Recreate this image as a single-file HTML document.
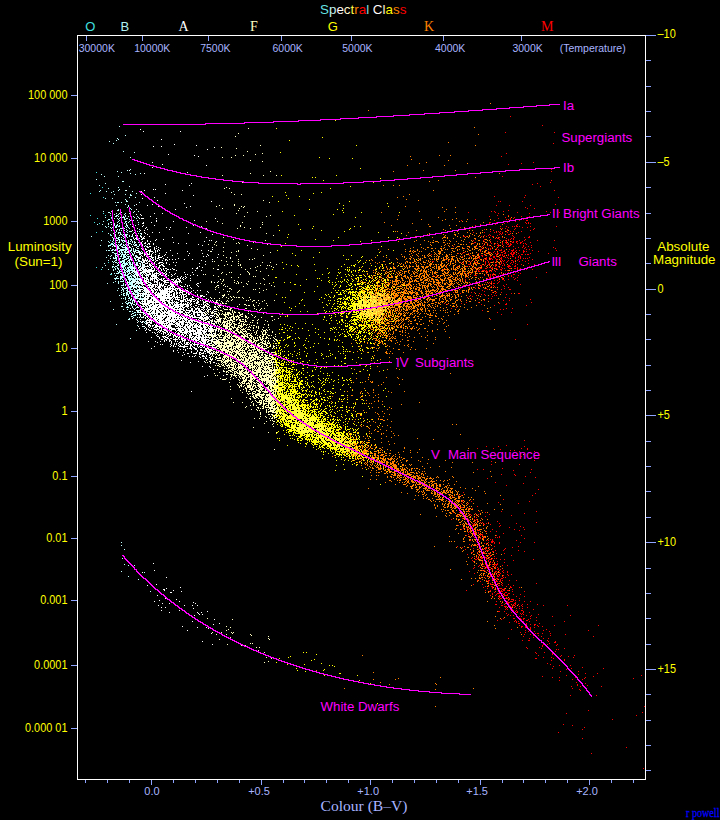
<!DOCTYPE html>
<html><head><meta charset="utf-8"><title>Hertzsprung-Russell Diagram</title>
<style>html,body{margin:0;padding:0;background:#000}svg{display:block}</style></head>
<body><svg width="720" height="820" viewBox="0 0 720 820">
<rect width="720" height="820" fill="#000"/>
<g transform="translate(0,.5)" fill="none" stroke-width="1" shape-rendering="crispEdges"><path stroke="#ff8000" d="M490 103h1M368 110h1M474 127h1M478 134h1M448 142h1M475 145h1M439 155h1M450 155h1M410 156h1M411 159h1M448 160h1M426 162h1M419 163h1M467 163h1M407 165h1M444 165h1M423 170h1M455 170h1M393 171h1M499 173h1M475 177h1M438 180h1M372 181h1M429 181h1M383 185h1M393 185h1M399 185h1M433 190h1M409 194h1M403 196h1M397 197h1M406 199h1M418 200h1M405 206h1M442 207h1M455 207h1M446 209h1M419 211h1M444 211h1M381 212h1M455 212h1M503 214h1M398 215h1M508 216h1M438 217h1M511 217h1M456 218h1M397 219h1M421 219h1M445 219h1M452 219h1M467 219h1M490 219h1M442 220h1M459 221h1M462 221h1M466 221h1M384 222h1M483 222h1M412 223h1M495 223h1M428 224h1M502 224h1M391 225h1M449 225h1M456 225h1M429 226h2M472 226h1M464 227h1M450 228h1M465 228h1M443 229h1M459 229h1M465 229h1M486 229h1M490 229h1M501 229h1M416 230h1M445 230h1M469 230h1M472 230h1M482 230h1M508 230h1M395 231h1M397 231h1M448 231h1M457 231h1M505 231h1M408 232h1M454 232h1M467 232h1M480 232h1M482 232h1M429 233h1M437 233h1M458 233h1M470 233h1M476 233h1M480 233h1M512 233h1M516 233h1M427 234h1M443 234h1M454 234h2M472 234h1M406 235h1M445 235h1M455 235h1M463 235h1M469 235h1M474 235h1M479 235h1M415 236h1M444 236h1M457 236h1M467 236h1M469 236h1M478 236h1M483 236h1M502 236h1M420 237h1M432 237h1M443 237h3M447 237h1M460 237h1M465 237h1M468 237h1M480 237h1M489 237h1M493 237h1M504 237h1M399 238h1M407 238h1M442 238h1M447 238h1M453 238h1M474 238h2M464 239h1M485 239h2M416 240h1M424 240h1M433 240h1M443 240h1M445 240h1M449 240h1M461 240h1M471 240h1M478 240h2M487 240h1M489 240h1M398 241h1M414 241h1M428 241h1M435 241h3M450 241h1M456 241h1M463 241h1M472 241h1M483 241h1M502 241h1M510 241h1M430 242h1M432 242h2M438 242h1M443 242h2M485 242h2M500 242h1M507 242h1M447 243h1M449 243h1M458 243h1M471 243h2M477 243h1M479 243h1M494 243h1M404 244h1M420 244h1M430 244h1M445 244h1M454 244h1M460 244h2M463 244h1M466 244h1M471 244h1M477 244h1M479 244h1M484 244h1M487 244h1M431 245h1M444 245h1M448 245h1M452 245h1M476 245h1M490 245h1M500 245h1M441 246h1M449 246h1M457 246h3M467 246h2M474 246h2M479 246h2M494 246h1M502 246h1M413 247h1M421 247h1M427 247h2M444 247h1M456 247h1M462 247h1M469 247h1M474 247h2M483 247h1M485 247h1M497 247h1M410 248h1M423 248h1M431 248h2M435 248h1M440 248h2M443 248h1M451 248h3M455 248h1M462 248h2M467 248h1M472 248h1M475 248h3M482 248h1M492 248h1M378 249h1M388 249h1M405 249h1M417 249h1M425 249h1M441 249h1M445 249h1M447 249h1M457 249h1M459 249h1M468 249h1M472 249h1M474 249h1M479 249h1M488 249h1M495 249h1M506 249h1M410 250h1M413 250h1M417 250h1M433 250h1M438 250h1M441 250h2M452 250h1M457 250h1M463 250h1M469 250h2M478 250h1M480 250h1M485 250h2M380 251h1M405 251h1M409 251h2M412 251h1M414 251h2M419 251h1M421 251h1M431 251h1M438 251h3M453 251h2M465 251h1M467 251h1M482 251h1M484 251h2M497 251h1M413 252h1M434 252h1M439 252h2M444 252h1M451 252h1M472 252h1M476 252h1M484 252h1M488 252h2M516 252h1M411 253h1M418 253h1M429 253h1M435 253h1M438 253h3M457 253h1M460 253h1M470 253h1M472 253h1M481 253h2M486 253h3M491 253h1M401 254h1M409 254h1M416 254h1M428 254h1M434 254h1M436 254h1M439 254h1M442 254h1M446 254h1M449 254h1M451 254h1M461 254h1M466 254h3M477 254h2M484 254h1M489 254h2M492 254h1M497 254h1M412 255h1M417 255h1M422 255h1M424 255h1M427 255h1M429 255h2M437 255h1M446 255h2M456 255h1M464 255h1M472 255h2M477 255h2M486 255h1M499 255h1M506 255h1M383 256h1M402 256h1M404 256h1M410 256h1M418 256h1M424 256h1M428 256h1M431 256h1M434 256h1M436 256h1M438 256h2M445 256h3M451 256h4M460 256h1M464 256h1M473 256h1M475 256h2M479 256h1M497 256h2M375 257h1M386 257h1M404 257h1M411 257h1M424 257h2M438 257h1M443 257h1M446 257h1M448 257h1M452 257h1M456 257h1M461 257h2M471 257h1M475 257h1M477 257h2M396 258h1M406 258h1M409 258h2M413 258h1M418 258h1M420 258h1M422 258h1M429 258h1M434 258h1M436 258h1M438 258h1M441 258h1M443 258h1M446 258h2M451 258h2M457 258h1M459 258h1M464 258h1M466 258h1M468 258h2M471 258h1M473 258h4M485 258h1M489 258h1M510 258h1M371 259h1M389 259h1M397 259h1M405 259h1M410 259h1M414 259h1M419 259h2M430 259h1M432 259h1M434 259h1M436 259h3M443 259h2M446 259h1M448 259h2M451 259h3M457 259h1M460 259h1M462 259h2M473 259h1M480 259h2M499 259h1M366 260h1M372 260h1M414 260h1M417 260h2M420 260h1M426 260h1M428 260h1M436 260h1M442 260h3M448 260h1M451 260h1M453 260h1M455 260h1M457 260h2M467 260h1M472 260h1M476 260h1M478 260h1M483 260h1M383 261h2M406 261h2M414 261h2M423 261h1M428 261h1M430 261h1M437 261h1M441 261h1M450 261h2M455 261h1M458 261h1M463 261h1M465 261h2M469 261h1M474 261h1M477 261h1M497 261h1M500 261h1M515 261h1M375 262h1M379 262h1M397 262h1M405 262h1M407 262h1M409 262h2M412 262h2M416 262h1M418 262h1M423 262h3M429 262h1M432 262h1M441 262h1M446 262h1M450 262h1M455 262h1M459 262h1M462 262h1M466 262h1M474 262h1M477 262h1M491 262h2M495 262h1M498 262h2M370 263h1M377 263h1M390 263h1M399 263h1M401 263h1M405 263h1M410 263h1M415 263h1M420 263h1M427 263h1M430 263h2M441 263h2M448 263h1M450 263h1M452 263h2M461 263h1M466 263h1M470 263h1M473 263h3M478 263h2M499 263h1M381 264h1M385 264h1M393 264h1M400 264h1M403 264h1M416 264h1M421 264h1M424 264h1M429 264h3M433 264h1M435 264h2M438 264h1M440 264h2M444 264h1M447 264h1M450 264h1M455 264h1M462 264h2M473 264h1M475 264h2M483 264h1M492 264h1M507 264h1M403 265h1M406 265h1M409 265h1M416 265h1M418 265h1M429 265h2M436 265h1M440 265h2M443 265h2M446 265h1M449 265h1M453 265h2M459 265h1M464 265h1M471 265h1M476 265h1M487 265h1M491 265h1M523 265h1M380 266h1M386 266h1M393 266h1M397 266h1M400 266h1M402 266h1M404 266h1M406 266h1M409 266h2M412 266h2M416 266h3M421 266h3M426 266h3M430 266h1M434 266h1M436 266h1M438 266h2M441 266h3M445 266h1M453 266h1M458 266h2M462 266h1M464 266h2M469 266h1M472 266h2M486 266h1M490 266h1M499 266h1M361 267h1M386 267h1M390 267h1M393 267h2M405 267h1M407 267h1M409 267h1M418 267h1M422 267h2M425 267h3M432 267h2M436 267h1M438 267h2M441 267h2M446 267h1M453 267h1M456 267h2M459 267h1M463 267h2M472 267h1M474 267h2M479 267h3M369 268h1M376 268h1M383 268h1M387 268h1M393 268h3M402 268h1M404 268h1M407 268h1M414 268h2M417 268h3M423 268h1M425 268h1M430 268h1M434 268h1M436 268h1M438 268h3M444 268h1M447 268h1M451 268h1M453 268h1M455 268h1M457 268h2M461 268h2M464 268h2M468 268h1M470 268h2M475 268h1M477 268h2M494 268h1M511 268h1M387 269h1M389 269h1M415 269h3M421 269h1M424 269h1M428 269h1M431 269h1M438 269h2M442 269h1M444 269h2M447 269h2M451 269h1M453 269h1M455 269h2M460 269h1M462 269h1M464 269h2M471 269h2M476 269h2M492 269h1M496 269h1M373 270h1M375 270h1M383 270h2M392 270h1M394 270h1M400 270h2M408 270h2M416 270h1M420 270h2M423 270h2M426 270h1M430 270h2M437 270h1M441 270h3M447 270h1M449 270h1M455 270h1M462 270h2M468 270h1M470 270h1M472 270h1M490 270h1M508 270h2M367 271h1M386 271h1M389 271h1M391 271h1M394 271h1M398 271h1M402 271h1M404 271h3M408 271h1M412 271h1M414 271h1M417 271h1M420 271h1M423 271h4M428 271h1M432 271h1M435 271h1M442 271h1M444 271h1M448 271h1M459 271h2M462 271h4M467 271h1M469 271h1M472 271h1M475 271h2M482 271h2M358 272h1M373 272h1M375 272h1M378 272h1M385 272h1M387 272h2M396 272h1M399 272h2M404 272h1M408 272h1M413 272h1M415 272h2M423 272h1M425 272h2M430 272h1M432 272h1M434 272h4M444 272h2M447 272h2M453 272h1M455 272h1M458 272h2M462 272h1M468 272h5M475 272h1M486 272h1M501 272h1M377 273h1M379 273h1M385 273h2M391 273h1M397 273h1M399 273h1M402 273h1M404 273h1M409 273h1M413 273h2M417 273h1M420 273h3M424 273h1M426 273h1M432 273h1M434 273h2M442 273h2M445 273h3M453 273h1M455 273h1M457 273h2M460 273h3M464 273h2M467 273h2M475 273h2M479 273h2M482 273h1M503 273h1M363 274h1M367 274h1M378 274h1M388 274h1M395 274h1M398 274h1M400 274h2M411 274h1M414 274h1M419 274h2M424 274h1M426 274h2M429 274h1M432 274h1M436 274h1M443 274h2M448 274h1M450 274h1M453 274h2M456 274h1M460 274h3M465 274h1M470 274h1M475 274h1M484 274h1M488 274h1M494 274h1M369 275h1M373 275h1M375 275h1M381 275h1M387 275h2M391 275h1M397 275h1M399 275h1M401 275h1M404 275h2M410 275h1M416 275h2M419 275h1M422 275h3M427 275h2M437 275h2M440 275h3M444 275h1M446 275h2M449 275h1M451 275h1M457 275h1M461 275h1M463 275h1M465 275h2M468 275h1M488 275h1M372 276h1M380 276h1M387 276h2M391 276h2M397 276h1M403 276h3M407 276h1M411 276h2M414 276h3M418 276h2M421 276h1M423 276h2M426 276h1M428 276h1M432 276h3M437 276h1M440 276h1M444 276h1M450 276h3M457 276h1M461 276h1M465 276h1M467 276h1M470 276h1M372 277h1M376 277h1M380 277h2M386 277h1M388 277h1M390 277h3M395 277h1M401 277h1M405 277h1M407 277h2M410 277h1M419 277h1M421 277h1M424 277h3M429 277h2M435 277h2M438 277h2M445 277h1M448 277h3M455 277h2M461 277h1M472 277h1M475 277h2M480 277h1M501 277h1M351 278h1M366 278h1M371 278h2M382 278h1M387 278h1M396 278h2M401 278h2M406 278h1M408 278h1M410 278h2M416 278h3M420 278h1M423 278h2M427 278h2M431 278h2M440 278h1M444 278h2M447 278h1M452 278h1M455 278h1M457 278h1M459 278h1M462 278h1M471 278h1M478 278h1M486 278h1M503 278h1M356 279h1M379 279h1M381 279h1M388 279h1M395 279h2M402 279h1M409 279h1M411 279h1M415 279h1M420 279h3M425 279h3M429 279h1M431 279h3M435 279h3M440 279h3M444 279h1M448 279h3M453 279h3M458 279h1M460 279h1M462 279h1M469 279h1M475 279h1M483 279h1M490 279h1M499 279h1M375 280h1M378 280h1M381 280h1M383 280h1M387 280h1M390 280h1M392 280h1M395 280h5M402 280h2M409 280h1M412 280h1M414 280h3M420 280h2M424 280h4M429 280h1M433 280h1M436 280h3M441 280h4M446 280h1M449 280h3M455 280h2M459 280h2M358 281h1M360 281h1M362 281h1M373 281h1M377 281h1M379 281h1M383 281h1M392 281h6M400 281h1M405 281h1M407 281h1M409 281h4M414 281h1M416 281h3M423 281h1M428 281h1M430 281h2M433 281h2M438 281h1M442 281h1M449 281h4M454 281h1M460 281h1M462 281h1M465 281h1M476 281h1M363 282h1M365 282h1M379 282h1M384 282h1M387 282h2M390 282h1M392 282h1M396 282h1M398 282h1M400 282h1M402 282h1M404 282h1M409 282h2M421 282h3M426 282h1M433 282h2M436 282h5M442 282h1M446 282h1M449 282h1M451 282h1M456 282h1M458 282h1M463 282h1M465 282h3M469 282h1M487 282h1M359 283h1M368 283h1M376 283h1M381 283h1M383 283h1M385 283h1M388 283h2M392 283h1M394 283h1M396 283h1M398 283h1M403 283h2M408 283h2M418 283h2M423 283h1M425 283h1M428 283h3M433 283h1M437 283h3M442 283h1M444 283h2M447 283h1M450 283h3M454 283h1M457 283h1M461 283h1M464 283h1M467 283h1M477 283h1M479 283h1M491 283h1M377 284h1M386 284h4M393 284h5M401 284h1M403 284h2M406 284h5M413 284h1M416 284h1M419 284h1M421 284h1M428 284h1M430 284h2M434 284h3M438 284h1M440 284h1M444 284h2M448 284h4M453 284h1M458 284h2M466 284h1M478 284h1M482 284h1M484 284h1M370 285h1M375 285h1M378 285h3M385 285h1M392 285h1M395 285h1M400 285h1M402 285h1M405 285h4M410 285h2M419 285h2M422 285h4M427 285h2M430 285h1M436 285h1M438 285h1M441 285h1M449 285h2M452 285h1M460 285h1M464 285h3M469 285h1M478 285h2M489 285h1M360 286h1M377 286h2M384 286h2M388 286h1M392 286h1M394 286h1M397 286h1M399 286h3M406 286h1M409 286h1M411 286h1M414 286h1M416 286h1M422 286h1M424 286h1M426 286h3M431 286h1M433 286h1M437 286h1M439 286h5M447 286h3M453 286h1M456 286h1M458 286h1M487 286h2M357 287h1M375 287h1M377 287h1M386 287h1M393 287h1M396 287h1M402 287h1M404 287h1M406 287h1M409 287h2M413 287h1M417 287h3M422 287h1M424 287h2M427 287h1M432 287h1M434 287h1M437 287h1M442 287h1M446 287h2M450 287h1M454 287h1M461 287h1M471 287h1M473 287h1M478 287h1M483 287h1M485 287h1M491 287h1M493 287h1M497 287h1M365 288h1M367 288h1M381 288h1M383 288h1M387 288h2M391 288h2M396 288h2M400 288h1M404 288h1M406 288h3M410 288h1M413 288h1M415 288h2M419 288h2M422 288h1M425 288h1M427 288h1M437 288h2M441 288h3M448 288h2M455 288h2M469 288h1M471 288h1M479 288h1M485 288h1M346 289h1M369 289h1M372 289h1M375 289h1M377 289h1M382 289h1M384 289h2M387 289h1M389 289h2M392 289h1M396 289h1M399 289h1M402 289h2M405 289h1M408 289h1M410 289h1M415 289h2M418 289h2M425 289h1M428 289h1M432 289h2M436 289h1M438 289h1M441 289h5M452 289h1M455 289h1M459 289h1M468 289h2M472 289h1M489 289h1M362 290h1M364 290h1M375 290h1M378 290h2M385 290h1M392 290h3M398 290h2M404 290h3M411 290h2M418 290h2M421 290h1M426 290h1M428 290h1M430 290h6M437 290h1M440 290h1M442 290h1M445 290h3M451 290h2M455 290h3M462 290h3M466 290h1M468 290h1M491 290h1M363 291h1M367 291h1M369 291h1M371 291h1M374 291h1M376 291h1M383 291h1M385 291h1M387 291h3M391 291h2M394 291h2M401 291h1M403 291h2M406 291h1M408 291h3M412 291h1M415 291h1M420 291h2M425 291h6M434 291h1M436 291h2M439 291h3M445 291h2M455 291h1M457 291h1M462 291h1M466 291h1M468 291h1M495 291h1M349 292h1M358 292h2M375 292h1M386 292h1M391 292h1M394 292h1M397 292h5M403 292h3M407 292h1M410 292h5M416 292h2M421 292h2M426 292h1M429 292h1M431 292h2M435 292h1M438 292h2M441 292h1M455 292h3M462 292h2M468 292h1M493 292h1M355 293h1M387 293h2M391 293h1M393 293h3M400 293h1M403 293h2M406 293h2M410 293h3M415 293h3M421 293h2M425 293h2M428 293h1M430 293h3M436 293h1M442 293h1M446 293h1M449 293h1M475 293h1M514 293h1M359 294h1M386 294h1M388 294h2M392 294h1M395 294h3M401 294h3M408 294h1M411 294h1M416 294h3M423 294h1M426 294h3M432 294h2M439 294h1M442 294h1M447 294h1M449 294h1M451 294h1M454 294h1M457 294h2M500 294h1M393 295h2M396 295h3M400 295h1M402 295h2M413 295h2M416 295h1M422 295h1M426 295h3M430 295h1M436 295h2M441 295h4M446 295h4M455 295h1M458 295h1M466 295h1M478 295h1M488 295h1M357 296h1M394 296h4M400 296h2M404 296h2M408 296h3M413 296h1M417 296h1M419 296h2M422 296h1M424 296h1M428 296h1M432 296h1M434 296h1M439 296h4M445 296h1M447 296h1M449 296h1M452 296h1M455 296h1M458 296h1M461 296h1M480 296h1M393 297h3M399 297h1M403 297h2M407 297h5M413 297h4M423 297h1M425 297h1M428 297h2M440 297h1M444 297h2M451 297h1M455 297h2M394 298h1M400 298h2M403 298h4M408 298h4M415 298h2M418 298h3M423 298h2M427 298h2M430 298h1M435 298h2M439 298h1M442 298h1M445 298h1M449 298h1M455 298h1M468 298h1M470 298h1M477 298h1M498 298h1M357 299h1M399 299h3M404 299h4M410 299h1M412 299h2M415 299h1M418 299h3M426 299h2M429 299h6M439 299h1M443 299h1M445 299h1M450 299h2M458 299h1M460 299h1M483 299h2M400 300h2M405 300h2M411 300h1M414 300h4M421 300h1M427 300h1M429 300h1M432 300h3M439 300h1M446 300h2M450 300h1M456 300h2M466 300h1M475 300h1M481 300h1M400 301h3M404 301h1M407 301h1M410 301h2M415 301h2M418 301h1M420 301h1M424 301h1M428 301h1M432 301h1M441 301h3M446 301h1M448 301h1M455 301h1M461 301h1M469 301h2M488 301h1M399 302h4M405 302h1M410 302h2M413 302h2M417 302h2M421 302h1M424 302h2M427 302h1M435 302h2M438 302h1M440 302h1M442 302h1M445 302h1M455 302h1M479 302h1M498 302h1M342 303h1M399 303h1M401 303h1M404 303h5M410 303h3M414 303h1M419 303h2M422 303h1M431 303h3M438 303h2M448 303h1M452 303h3M390 304h4M399 304h1M403 304h2M407 304h3M415 304h1M417 304h4M422 304h1M424 304h1M428 304h2M435 304h1M440 304h1M446 304h1M456 304h1M464 304h1M390 305h1M392 305h1M394 305h6M403 305h2M406 305h2M412 305h2M415 305h4M420 305h1M422 305h3M427 305h1M429 305h1M432 305h1M437 305h1M450 305h1M453 305h1M456 305h1M476 305h1M484 305h1M392 306h1M394 306h1M398 306h1M400 306h1M403 306h1M405 306h7M413 306h1M415 306h1M418 306h1M424 306h1M428 306h1M430 306h1M435 306h1M437 306h1M452 306h3M457 306h1M460 306h1M389 307h2M392 307h3M398 307h3M402 307h1M406 307h1M408 307h2M411 307h1M414 307h1M416 307h1M421 307h1M424 307h1M431 307h1M433 307h1M440 307h1M446 307h1M464 307h1M471 307h1M490 307h1M390 308h1M395 308h3M399 308h1M406 308h1M408 308h1M410 308h1M412 308h3M417 308h1M420 308h1M422 308h1M425 308h1M427 308h1M434 308h1M443 308h1M487 308h1M388 309h2M391 309h1M393 309h1M395 309h1M397 309h1M399 309h1M401 309h1M403 309h2M406 309h2M409 309h1M411 309h1M417 309h2M420 309h3M425 309h1M447 309h1M455 309h1M459 309h1M467 309h1M389 310h2M392 310h1M395 310h3M399 310h1M401 310h1M405 310h3M413 310h3M417 310h1M421 310h1M425 310h1M428 310h2M433 310h1M435 310h1M440 310h1M443 310h1M445 310h1M458 310h1M387 311h1M390 311h1M392 311h1M394 311h2M398 311h1M400 311h1M403 311h1M413 311h2M416 311h2M422 311h1M425 311h1M429 311h1M450 311h1M457 311h2M487 311h2M385 312h1M387 312h2M390 312h1M396 312h1M399 312h1M404 312h1M406 312h1M408 312h1M412 312h1M418 312h1M433 312h1M445 312h1M447 312h1M384 313h1M388 313h1M392 313h1M396 313h1M399 313h3M403 313h1M405 313h1M407 313h1M410 313h2M414 313h1M417 313h1M420 313h1M424 313h1M426 313h1M430 313h1M436 313h1M458 313h1M384 314h1M386 314h1M388 314h1M390 314h1M392 314h2M398 314h1M400 314h2M404 314h1M410 314h1M412 314h1M419 314h1M427 314h2M430 314h1M454 314h1M385 315h2M389 315h3M397 315h1M400 315h1M403 315h1M405 315h1M409 315h1M415 315h1M429 315h4M435 315h1M448 315h1M341 316h1M347 316h1M384 316h1M386 316h1M389 316h1M393 316h1M395 316h2M398 316h2M404 316h1M414 316h1M417 316h2M425 316h1M435 316h2M443 316h1M384 317h2M387 317h1M389 317h2M394 317h2M398 317h1M401 317h1M406 317h4M413 317h2M422 317h1M429 317h2M357 318h1M383 318h2M391 318h2M397 318h1M401 318h1M403 318h1M406 318h2M418 318h1M438 318h1M441 318h1M489 318h1M369 319h1M383 319h1M387 319h1M389 319h1M392 319h1M394 319h1M398 319h1M400 319h1M402 319h2M406 319h1M408 319h1M415 319h1M420 319h2M442 319h1M363 320h1M365 320h1M370 320h1M373 320h1M382 320h1M386 320h1M388 320h1M393 320h2M397 320h3M401 320h1M403 320h1M409 320h1M414 320h2M429 320h1M431 320h2M446 320h1M361 321h1M381 321h1M384 321h2M390 321h2M395 321h2M398 321h1M402 321h1M408 321h1M410 321h2M419 321h1M429 321h1M439 321h1M373 322h1M380 322h1M382 322h1M388 322h1M395 322h1M401 322h1M431 322h1M444 322h1M371 323h1M373 323h1M377 323h2M384 323h1M386 323h2M389 323h1M391 323h1M395 323h1M398 323h1M400 323h1M404 323h1M410 323h2M416 323h2M423 323h1M432 323h1M443 323h1M353 324h1M360 324h1M363 324h2M372 324h1M376 324h2M379 324h1M384 324h2M394 324h1M399 324h1M403 324h1M408 324h1M417 324h1M420 324h2M437 324h1M371 325h1M375 325h1M378 325h1M388 325h2M391 325h2M396 325h1M398 325h1M401 325h1M403 325h1M428 325h1M448 325h1M366 326h1M380 326h2M384 326h1M388 326h1M393 326h2M396 326h2M400 326h2M406 326h1M409 326h1M413 326h1M446 326h1M370 327h1M372 327h1M377 327h1M379 327h1M382 327h2M387 327h1M389 327h1M392 327h1M394 327h1M398 327h1M400 327h2M403 327h1M407 327h1M412 327h1M416 327h1M350 328h1M370 328h1M376 328h1M380 328h1M386 328h1M391 328h1M393 328h1M403 328h1M405 328h1M407 328h1M410 328h3M414 328h1M419 328h1M424 328h2M365 329h1M371 329h3M376 329h1M378 329h1M380 329h1M384 329h1M386 329h1M389 329h2M392 329h1M395 329h1M411 329h1M418 329h1M437 329h1M444 329h1M494 329h1M357 330h1M365 330h1M379 330h1M381 330h1M383 330h3M388 330h1M395 330h2M402 330h1M405 330h1M417 330h1M432 330h1M352 331h1M368 331h1M372 331h1M375 331h1M379 331h1M382 331h1M388 331h1M393 331h1M399 331h2M402 331h1M427 331h1M432 331h1M445 331h1M354 332h1M356 332h1M374 332h1M378 332h1M380 332h1M383 332h1M386 332h1M393 332h1M402 332h1M405 332h1M377 333h2M380 333h1M383 333h2M389 333h1M393 333h1M408 333h1M419 333h1M377 334h1M381 334h1M383 334h1M385 334h1M388 334h1M390 334h1M392 334h1M400 334h1M375 335h1M378 335h1M380 335h1M382 335h1M385 335h1M387 335h1M402 335h1M405 335h1M427 335h1M370 336h1M373 336h1M386 336h2M389 336h1M392 336h1M395 336h1M409 336h1M421 336h1M383 337h1M385 337h2M391 337h1M393 337h1M407 337h1M414 337h1M425 337h1M435 337h1M449 337h1M366 338h1M373 338h4M389 338h2M392 338h1M394 338h2M361 339h1M376 339h1M378 339h1M389 339h1M402 339h1M435 339h1M339 340h1M356 340h1M375 340h3M379 340h1M381 340h1M385 340h1M388 340h1M390 340h2M396 340h1M407 340h2M427 340h1M379 341h1M381 341h1M391 341h1M400 341h1M413 341h1M360 342h1M364 342h1M367 342h1M375 342h1M379 342h2M382 342h1M397 342h1M351 343h1M367 343h1M374 343h1M379 343h1M382 343h1M385 343h1M395 343h1M433 343h1M374 344h1M377 344h1M383 344h1M385 344h1M399 344h1M408 344h1M377 345h1M387 345h1M404 345h1M407 345h1M359 346h1M361 346h1M386 346h1M389 346h1M408 346h1M367 347h1M371 347h1M373 347h2M379 347h1M411 347h1M370 348h1M376 348h1M393 348h1M426 348h1M387 349h1M398 349h2M410 349h1M415 349h1M377 350h1M350 351h1M357 351h1M363 351h1M386 351h1M390 351h1M367 352h1M385 352h2M403 352h1M386 353h2M389 353h1M392 353h1M374 355h1M373 357h1M389 357h1M400 357h1M396 358h1M380 359h1M371 360h1M464 360h1M389 361h1M356 362h1M374 362h1M360 365h1M377 366h1M396 368h1M354 369h1M387 369h1M399 369h1M359 371h1M379 371h1M450 373h1M369 375h1M368 377h1M386 377h1M397 377h1M356 378h1M398 378h1M368 379h1M402 379h1M351 380h1M365 381h1M370 381h1M372 381h1M353 382h1M362 382h1M371 382h2M383 382h1M381 384h1M399 384h1M378 385h1M364 388h1M352 389h1M373 389h1M373 390h1M347 391h1M361 391h1M388 391h1M404 391h1M360 392h1M367 392h1M373 392h1M391 392h1M360 393h1M368 393h1M378 394h1M351 395h2M362 395h1M369 395h1M375 395h1M332 396h1M362 396h1M347 397h1M360 397h1M373 397h1M378 397h1M361 399h1M366 400h1M378 400h1M331 401h1M341 401h1M374 401h1M378 401h1M382 401h1M355 402h1M419 402h1M318 403h1M366 403h1M369 403h1M371 403h1M382 404h1M401 404h1M349 407h1M372 407h1M378 407h1M389 407h1M336 408h1M353 408h1M391 408h1M387 409h1M353 410h1M363 410h1M346 411h1M382 411h1M366 412h1M375 412h1M358 413h3M377 413h1M384 413h1M378 414h1M389 414h1M356 415h1M360 415h2M331 416h1M379 416h1M383 416h1M342 417h1M363 418h1M378 418h1M355 419h1M371 419h1M378 419h1M380 419h3M387 419h1M383 420h2M348 421h1M354 421h1M373 421h1M391 421h1M361 422h1M367 422h1M375 422h1M330 423h1M452 424h1M456 424h1M326 425h1M343 425h1M360 425h1M363 425h1M370 425h1M379 425h1M387 425h1M361 426h1M366 426h1M377 426h1M382 426h1M368 427h1M390 427h1M341 428h1M369 428h1M375 429h1M380 429h1M374 430h1M386 430h1M338 431h1M369 431h1M377 431h2M391 431h1M348 432h1M357 432h1M351 433h1M369 433h1M371 433h1M381 433h1M383 433h1M393 433h1M355 434h1M381 434h1M460 434h1M348 435h1M350 435h1M367 435h1M394 435h1M398 435h1M350 436h1M356 436h1M363 436h1M367 436h1M386 436h1M345 437h1M351 437h1M356 437h1M391 437h1M353 438h1M365 438h1M368 438h1M381 438h1M417 438h1M355 439h1M374 439h1M433 439h1M351 440h1M355 440h1M368 440h2M362 441h1M388 441h1M358 442h1M361 442h1M363 442h1M367 442h1M369 442h1M381 442h1M356 443h1M360 443h1M362 443h1M367 443h1M394 443h1M354 444h1M356 444h1M371 444h1M389 444h1M359 445h1M362 445h1M365 445h1M367 445h1M374 445h2M355 446h1M357 446h2M362 446h1M368 446h1M370 446h1M376 446h1M355 447h1M362 447h1M366 447h2M370 447h1M375 447h1M382 447h1M404 447h1M355 448h1M362 448h1M365 448h1M369 448h1M371 448h2M375 448h1M379 448h2M404 448h1M468 448h1M357 449h2M361 449h1M365 449h1M368 449h1M381 449h1M387 449h1M419 449h1M363 450h2M367 450h1M377 450h1M380 450h1M382 450h1M390 450h1M410 450h1M363 451h6M374 451h3M378 451h1M403 451h1M360 452h1M363 452h3M370 452h1M378 452h3M382 452h1M384 452h1M398 452h1M410 452h1M417 452h1M344 453h1M360 453h1M362 453h2M367 453h1M370 453h3M374 453h2M378 453h1M385 453h2M389 453h2M352 454h1M354 454h1M360 454h1M363 454h2M366 454h1M368 454h1M374 454h2M381 454h3M395 454h1M399 454h1M523 454h1M334 455h1M352 455h1M354 455h2M358 455h1M360 455h1M365 455h1M367 455h1M372 455h1M375 455h1M377 455h2M380 455h3M385 455h2M389 455h1M393 455h1M332 456h1M347 456h1M361 456h1M366 456h1M370 456h1M372 456h1M375 456h1M378 456h1M383 456h2M392 456h1M395 456h1M399 456h1M355 457h1M360 457h1M364 457h1M371 457h1M374 457h5M380 457h1M383 457h1M391 457h1M399 457h1M401 457h1M411 457h1M422 457h1M358 458h2M363 458h1M366 458h1M368 458h1M372 458h1M377 458h1M380 458h4M387 458h2M390 458h3M394 458h1M397 458h1M403 458h2M345 459h1M355 459h2M362 459h1M370 459h2M374 459h1M376 459h3M382 459h4M388 459h4M393 459h1M396 459h1M402 459h1M428 459h1M352 460h1M354 460h1M361 460h1M364 460h1M370 460h2M373 460h1M376 460h2M381 460h1M383 460h3M390 460h1M394 460h1M400 460h1M406 460h2M418 460h1M445 460h1M360 461h1M367 461h1M371 461h2M376 461h1M379 461h4M384 461h1M386 461h2M392 461h3M397 461h1M406 461h1M420 461h1M357 462h1M359 462h1M365 462h1M367 462h1M370 462h2M377 462h1M380 462h5M386 462h3M390 462h1M392 462h2M396 462h1M401 462h1M452 462h1M472 462h1M495 462h1M364 463h1M366 463h1M372 463h1M375 463h1M377 463h1M379 463h1M386 463h2M390 463h4M398 463h1M427 463h1M356 464h1M365 464h1M367 464h1M370 464h1M372 464h1M379 464h1M383 464h2M386 464h2M390 464h2M393 464h3M398 464h1M402 464h2M409 464h1M411 464h1M361 465h1M367 465h1M371 465h1M374 465h1M376 465h1M378 465h1M383 465h1M385 465h1M388 465h2M392 465h5M402 465h2M405 465h1M410 465h1M369 466h1M375 466h1M377 466h1M380 466h1M383 466h1M385 466h2M390 466h2M393 466h4M401 466h1M422 466h1M439 466h1M365 467h1M370 467h1M372 467h1M376 467h3M380 467h1M385 467h1M389 467h1M391 467h2M394 467h3M402 467h1M406 467h1M430 467h1M451 467h1M362 468h1M368 468h1M372 468h2M378 468h4M388 468h1M391 468h2M394 468h5M400 468h1M402 468h1M404 468h1M407 468h1M411 468h2M414 468h1M416 468h2M424 468h1M378 469h3M383 469h1M385 469h1M387 469h3M391 469h1M393 469h1M396 469h3M401 469h5M409 469h1M411 469h1M419 469h1M371 470h1M376 470h1M384 470h2M388 470h2M394 470h1M396 470h4M401 470h3M406 470h1M409 470h1M411 470h1M415 470h1M381 471h1M386 471h1M389 471h1M391 471h1M394 471h3M400 471h1M403 471h1M405 471h1M407 471h1M418 471h1M422 471h1M424 471h1M445 471h1M490 471h1M370 472h1M376 472h1M378 472h2M386 472h1M389 472h2M392 472h3M398 472h1M402 472h2M405 472h1M407 472h1M410 472h4M416 472h1M419 472h1M473 472h1M384 473h2M387 473h1M394 473h2M397 473h1M399 473h5M407 473h3M414 473h1M416 473h2M421 473h2M425 473h1M391 474h2M394 474h2M398 474h1M400 474h1M405 474h7M421 474h1M423 474h1M371 475h1M376 475h1M378 475h1M393 475h3M397 475h5M409 475h2M413 475h1M416 475h2M419 475h1M423 475h1M387 476h1M390 476h2M397 476h1M399 476h1M404 476h1M408 476h1M411 476h5M417 476h2M421 476h1M427 476h1M437 476h1M452 476h1M491 476h1M387 477h1M391 477h1M393 477h1M397 477h2M400 477h2M403 477h1M405 477h1M407 477h1M411 477h1M413 477h3M418 477h3M422 477h3M430 477h1M436 477h1M438 477h1M453 477h1M396 478h1M399 478h1M405 478h2M408 478h1M413 478h1M415 478h1M417 478h4M424 478h1M426 478h2M429 478h3M433 478h1M370 479h1M376 479h1M394 479h1M400 479h1M403 479h3M407 479h1M410 479h1M412 479h1M418 479h1M421 479h1M425 479h2M432 479h1M449 479h1M389 480h2M397 480h1M399 480h2M406 480h1M408 480h1M411 480h2M414 480h4M419 480h1M421 480h3M425 480h1M431 480h1M436 480h1M440 480h1M444 480h1M447 480h1M391 481h1M405 481h1M407 481h2M411 481h3M415 481h1M418 481h1M420 481h1M424 481h1M426 481h1M430 481h5M443 481h1M456 481h1M385 482h1M399 482h1M402 482h1M404 482h1M407 482h2M412 482h3M416 482h1M418 482h5M424 482h2M428 482h2M432 482h1M406 483h1M409 483h1M416 483h1M419 483h4M424 483h1M431 483h1M434 483h3M448 483h1M395 484h1M403 484h3M413 484h1M415 484h1M417 484h4M422 484h1M424 484h3M429 484h1M432 484h2M436 484h1M439 484h2M443 484h1M454 484h1M407 485h1M412 485h2M415 485h1M422 485h4M427 485h1M429 485h1M431 485h3M436 485h2M439 485h2M447 485h1M449 485h1M406 486h1M410 486h3M416 486h1M419 486h1M421 486h1M424 486h1M429 486h1M431 486h1M433 486h1M436 486h1M439 486h2M445 486h2M478 486h1M411 487h1M415 487h2M419 487h2M425 487h2M429 487h1M433 487h1M436 487h2M444 487h1M446 487h1M448 487h1M460 487h1M368 488h1M411 488h2M419 488h1M423 488h4M428 488h2M431 488h1M435 488h3M439 488h1M442 488h1M447 488h1M450 488h3M465 488h1M472 488h1M416 489h3M425 489h1M427 489h1M432 489h3M436 489h1M439 489h1M441 489h1M447 489h1M451 489h1M417 490h1M423 490h1M426 490h4M431 490h1M433 490h1M435 490h1M437 490h2M443 490h2M446 490h2M449 490h2M455 490h1M475 490h1M416 491h1M419 491h1M421 491h1M423 491h1M432 491h1M434 491h1M436 491h1M441 491h1M443 491h1M446 491h1M448 491h1M450 491h1M452 491h1M456 491h1M458 491h1M484 491h1M401 492h1M418 492h1M422 492h1M424 492h1M431 492h1M434 492h2M440 492h1M442 492h4M447 492h2M450 492h3M457 492h1M407 493h1M424 493h1M431 493h2M434 493h2M437 493h1M439 493h1M441 493h2M445 493h2M452 493h1M457 493h1M485 493h1M422 494h2M426 494h1M434 494h2M437 494h3M441 494h2M449 494h2M454 494h1M456 494h2M459 494h1M464 494h1M415 495h1M418 495h1M425 495h1M433 495h1M437 495h1M439 495h1M442 495h1M449 495h1M451 495h2M454 495h1M462 495h1M500 495h1M423 496h1M435 496h2M438 496h2M443 496h3M450 496h1M458 496h3M427 497h1M438 497h1M440 497h1M442 497h2M446 497h1M449 497h2M452 497h3M458 497h2M463 497h1M468 497h1M471 497h1M423 498h1M426 498h1M432 498h1M439 498h1M442 498h1M446 498h2M450 498h2M455 498h2M458 498h2M414 499h1M428 499h2M436 499h8M449 499h1M454 499h2M470 499h1M473 499h1M430 500h1M433 500h1M441 500h2M446 500h1M449 500h1M452 500h1M456 500h4M461 500h1M463 500h1M469 500h1M431 501h1M435 501h1M439 501h1M443 501h1M445 501h1M448 501h3M452 501h1M455 501h1M457 501h3M461 501h1M464 501h1M449 502h1M456 502h1M458 502h1M463 502h1M467 502h1M442 503h1M445 503h1M448 503h2M451 503h2M455 503h1M457 503h1M466 503h1M473 503h1M487 503h1M434 504h1M442 504h1M444 504h1M447 504h2M451 504h1M453 504h1M456 504h1M458 504h2M462 504h1M467 504h1M500 504h1M434 505h1M437 505h1M444 505h1M448 505h1M450 505h2M454 505h1M457 505h2M460 505h1M463 505h2M466 505h1M437 506h1M443 506h1M447 506h2M451 506h1M454 506h4M459 506h2M464 506h1M469 506h1M471 506h1M435 507h1M444 507h2M447 507h1M450 507h2M453 507h1M455 507h2M458 507h1M460 507h1M463 507h2M467 507h1M435 508h1M452 508h1M454 508h2M458 508h3M466 508h1M469 508h2M441 509h1M443 509h1M451 509h1M461 509h3M465 509h2M468 509h2M471 509h2M494 509h1M502 509h1M445 510h1M447 510h2M452 510h2M456 510h1M463 510h1M468 510h1M478 510h1M481 510h1M442 511h1M452 511h2M461 511h1M463 511h2M466 511h2M469 511h1M449 512h2M454 512h1M460 512h1M462 512h1M464 512h1M482 512h1M487 512h1M446 513h1M450 513h2M455 513h1M461 513h2M464 513h1M466 513h1M468 513h1M480 513h1M420 514h1M457 514h3M462 514h1M466 514h1M469 514h1M474 514h1M476 514h1M480 514h1M445 515h1M449 515h1M456 515h1M460 515h2M465 515h1M477 515h1M436 516h1M446 516h1M456 516h3M460 516h1M462 516h2M465 516h3M470 516h1M474 516h1M478 516h1M464 517h1M469 517h2M453 518h1M456 518h1M463 518h1M466 518h2M472 518h1M456 519h1M458 519h2M464 519h1M470 519h1M472 519h1M477 519h1M482 519h1M487 519h1M458 520h1M462 520h1M467 520h2M474 520h1M480 520h1M461 521h1M464 521h1M467 521h1M470 521h1M473 521h1M478 521h1M459 522h2M465 522h1M471 522h1M475 522h1M463 523h1M465 523h2M476 523h1M479 523h1M481 523h1M488 523h1M460 524h1M464 524h1M466 524h1M468 524h3M475 524h1M477 524h1M456 525h2M463 525h2M470 525h1M473 525h1M475 525h1M477 525h1M479 525h2M483 525h1M463 526h2M466 526h1M468 526h1M470 526h1M473 526h1M477 526h1M487 526h1M468 527h1M470 527h2M475 527h2M486 527h1M456 528h1M464 528h1M469 528h3M475 528h1M486 528h1M455 529h1M460 529h1M464 529h1M467 529h1M470 529h1M474 529h1M477 529h1M479 529h3M467 530h1M471 530h1M475 530h1M484 530h1M464 531h2M467 531h1M471 531h1M474 531h2M480 531h1M485 531h1M470 532h1M482 532h1M458 533h1M471 533h2M474 533h2M480 533h1M486 533h1M472 534h1M475 534h2M479 534h1M465 535h1M472 535h1M477 535h2M495 535h1M449 536h1M468 536h2M471 536h1M479 536h1M482 536h1M484 536h2M487 536h1M464 537h1M470 537h1M475 537h1M478 537h2M483 537h1M485 537h1M463 538h1M482 538h1M488 538h1M463 539h1M469 539h2M472 539h1M474 539h3M478 539h1M482 539h2M487 539h1M469 540h1M475 540h1M477 540h1M483 540h1M449 541h1M451 541h1M454 541h1M463 541h2M473 541h1M479 541h1M478 542h1M481 542h1M479 543h1M481 543h1M487 543h1M472 544h1M477 544h1M479 544h1M486 544h1M471 545h1M473 545h3M482 545h2M488 545h1M491 545h1M434 546h1M464 546h1M477 546h1M481 546h1M483 546h1M456 547h1M460 547h1M467 547h2M486 547h1M461 548h1M479 548h1M484 548h1M488 548h1M470 549h1M477 549h1M480 549h1M482 549h1M491 549h1M463 550h1M473 550h1M462 551h1M473 551h1M479 551h2M485 551h1M487 551h1M479 552h1M483 552h1M490 552h1M493 552h1M471 553h1M477 553h1M483 553h1M486 553h1M473 554h2M492 554h2M501 554h1M476 555h1M479 555h1M483 555h1M486 555h2M491 555h1M476 556h1M481 556h1M487 556h1M468 557h1M478 557h1M480 557h1M484 557h1M474 558h1M491 558h1M478 559h2M484 559h1M479 560h4M493 560h1M466 561h1M474 561h1M486 561h1M474 562h1M494 562h1M476 563h1M482 563h1M485 563h2M489 563h1M494 563h1M467 564h1M481 564h2M489 564h1M493 564h1M474 565h1M481 565h1M488 565h2M482 566h1M493 566h1M500 566h1M480 567h1M485 567h1M494 567h1M482 568h1M491 568h1M495 568h1M450 569h1M478 570h1M480 570h2M483 570h1M487 570h1M484 571h1M489 571h1M492 571h1M498 571h1M477 572h1M486 572h1M498 572h1M481 573h1M483 573h2M488 573h2M494 573h1M496 573h1M480 574h1M483 574h1M488 574h1M494 574h1M479 575h1M481 575h1M487 575h1M502 575h1M487 576h1M479 577h1M482 577h1M489 577h1M492 577h1M471 578h1M475 578h1M479 578h2M488 578h1M492 578h1M461 579h1M494 579h2M498 579h1M478 580h1M484 580h1M492 580h2M477 581h1M486 581h2M492 582h1M501 582h1M487 583h2M499 583h1M492 584h1M471 585h1M488 585h1M494 585h2M487 586h1M493 587h1M521 587h1M495 588h1M505 588h1M509 588h1M495 589h1M498 590h1M509 590h1M488 591h1M485 592h1M488 592h1M501 595h1M492 596h1M503 596h1M508 597h1M491 598h1M494 598h1M498 598h1M487 601h1M500 601h1M502 602h1M517 605h1M507 607h1M512 607h1M497 611h1M495 616h1M504 617h1M500 618h1M487 621h1M494 625h1M517 627h1M495 628h1M521 634h1M362 655h1M316 670h1M373 672h1M440 677h1M398 678h1M373 679h1M395 679h1M380 682h1M435 683h1M389 684h1M436 684h1M344 688h1M400 688h1M473 688h1M435 689h1M435 706h1"/>
<path stroke="#ff0000" d="M510 116h1M542 125h1M505 132h1M554 132h1M553 143h1M506 153h1M501 156h1M533 162h1M521 163h1M508 164h1M530 169h1M551 169h1M499 171h1M551 171h1M502 176h1M551 180h1M550 182h1M537 183h1M532 184h1M540 186h1M554 190h1M525 195h1M494 196h1M524 197h1M558 197h1M498 201h1M500 201h1M522 201h1M555 204h1M496 205h1M509 205h1M530 205h1M525 207h1M527 208h1M534 208h1M553 209h1M508 210h1M491 211h1M494 211h1M503 211h1M546 211h1M468 212h1M495 212h1M517 212h1M550 212h1M559 212h1M498 213h1M529 213h1M497 215h1M508 215h1M489 216h1M521 216h1M529 216h1M505 217h1M514 217h1M526 217h1M498 218h1M510 218h1M513 218h1M475 219h1M506 219h1M508 219h1M510 219h1M523 219h1M461 220h1M494 220h1M519 220h1M526 220h2M505 221h1M507 221h1M515 221h1M489 222h2M496 222h1M507 222h1M525 222h1M528 222h1M489 223h1M504 223h1M526 223h1M528 223h1M530 223h1M495 224h1M517 224h1M475 225h1M484 225h1M486 225h1M516 225h1M500 226h1M506 226h1M512 226h1M514 226h1M516 226h2M519 226h1M530 226h1M556 226h1M460 227h1M470 227h1M508 227h1M522 227h1M527 227h1M470 228h1M502 228h1M505 228h1M515 228h1M534 228h1M484 229h1M507 229h1M514 229h1M533 229h1M493 230h1M507 230h1M530 230h1M490 231h1M498 231h1M500 231h1M506 231h1M510 231h1M513 231h1M521 231h1M473 232h1M484 232h1M494 232h1M496 232h1M499 232h1M502 232h1M507 232h1M518 232h1M500 233h1M502 233h1M510 233h1M489 234h1M499 234h1M501 234h1M508 234h2M484 235h1M488 235h1M490 235h1M497 235h1M512 235h1M463 236h2M466 236h1M481 236h1M486 236h1M492 236h2M513 236h1M529 236h1M483 237h1M499 237h1M502 237h1M514 237h1M524 237h1M528 237h2M495 238h1M497 238h2M506 238h1M511 238h1M513 238h1M484 239h1M490 239h1M499 239h1M508 239h1M510 239h1M513 239h1M525 239h1M473 240h1M483 240h1M500 240h1M503 240h1M505 240h1M508 240h1M519 240h1M524 240h1M537 240h1M554 240h1M484 241h1M497 241h1M506 241h1M511 241h1M513 241h1M516 241h2M522 241h1M469 242h1M474 242h1M490 242h1M502 242h1M505 242h2M512 242h2M516 242h1M520 242h2M530 242h1M473 243h1M484 243h1M487 243h1M491 243h1M495 243h1M502 243h1M506 243h1M508 243h1M510 243h1M517 243h1M520 243h1M523 243h1M525 243h1M494 244h1M498 244h1M502 244h1M507 244h2M510 244h2M526 244h1M483 245h1M487 245h1M489 245h1M497 245h3M503 245h1M509 245h2M523 245h1M531 245h1M453 246h1M476 246h1M482 246h1M491 246h1M498 246h1M506 246h1M508 246h2M513 246h1M523 246h1M528 246h1M481 247h1M492 247h1M503 247h1M518 247h1M522 247h1M525 247h1M531 247h1M553 247h1M464 248h1M483 248h1M486 248h1M488 248h1M490 248h1M496 248h1M515 248h1M524 248h1M555 248h1M481 249h1M490 249h1M496 249h1M498 249h1M501 249h1M509 249h1M513 249h1M526 249h1M529 249h1M499 250h3M504 250h1M511 250h3M516 250h1M519 250h1M523 250h1M532 250h1M556 250h1M480 251h1M488 251h1M494 251h1M503 251h1M508 251h1M512 251h1M515 251h1M523 251h2M526 251h1M538 251h1M464 252h1M485 252h1M490 252h1M493 252h1M497 252h1M502 252h1M505 252h1M511 252h1M513 252h2M523 252h1M458 253h1M462 253h1M468 253h1M478 253h1M489 253h1M495 253h1M497 253h2M504 253h2M510 253h2M513 253h2M518 253h1M530 253h1M548 253h1M431 254h1M485 254h1M496 254h1M500 254h1M502 254h1M508 254h1M511 254h3M516 254h1M521 254h2M525 254h1M527 254h2M469 255h1M474 255h1M481 255h2M496 255h1M500 255h1M502 255h1M504 255h1M508 255h1M512 255h1M519 255h1M462 256h1M470 256h1M478 256h1M482 256h1M490 256h1M493 256h2M496 256h1M504 256h1M510 256h1M512 256h2M518 256h1M520 256h1M479 257h1M486 257h1M489 257h1M493 257h2M499 257h1M501 257h1M505 257h1M507 257h1M515 257h1M518 257h1M520 257h1M529 257h1M477 258h1M479 258h1M484 258h1M486 258h1M490 258h2M495 258h1M500 258h2M508 258h1M515 258h1M520 258h1M523 258h1M525 258h1M527 258h1M445 259h1M475 259h1M485 259h2M490 259h1M492 259h1M496 259h2M501 259h1M518 259h1M532 259h1M475 260h1M481 260h1M487 260h1M496 260h1M500 260h1M502 260h1M504 260h1M508 260h1M511 260h2M515 260h1M517 260h1M522 260h1M528 260h1M432 261h2M448 261h1M468 261h1M471 261h1M485 261h1M488 261h1M493 261h1M501 261h1M503 261h1M507 261h1M513 261h1M519 261h1M525 261h1M460 262h1M463 262h1M475 262h2M485 262h1M488 262h1M490 262h1M493 262h1M496 262h1M501 262h1M506 262h1M511 262h1M513 262h1M463 263h1M485 263h1M489 263h1M501 263h1M503 263h1M510 263h1M515 263h1M528 263h1M468 264h3M485 264h1M488 264h1M495 264h2M499 264h2M504 264h1M512 264h1M517 264h1M521 264h1M534 264h1M473 265h1M480 265h2M484 265h1M489 265h1M493 265h1M495 265h1M502 265h1M504 265h1M508 265h2M515 265h1M446 266h1M457 266h1M466 266h1M495 266h1M498 266h1M507 266h4M514 266h2M529 266h1M478 267h1M489 267h2M492 267h1M499 267h1M501 267h1M508 267h1M517 267h1M473 268h1M476 268h1M481 268h1M485 268h2M491 268h2M495 268h2M502 268h1M504 268h1M509 268h2M514 268h2M517 268h1M520 268h1M524 268h1M443 269h1M497 269h1M500 269h2M517 269h1M519 269h2M526 269h1M532 269h1M476 270h1M478 270h1M482 270h3M486 270h1M489 270h1M491 270h1M494 270h1M501 270h1M505 270h1M507 270h1M511 270h1M520 270h1M474 271h1M478 271h2M481 271h1M485 271h3M489 271h1M491 271h1M495 271h1M516 271h1M464 272h1M508 272h1M515 272h1M518 272h1M546 272h1M471 273h1M486 273h1M493 273h1M499 273h1M501 273h1M505 273h1M520 273h1M468 274h1M487 274h1M490 274h1M492 274h1M495 274h1M502 274h1M504 274h1M513 274h2M433 275h1M474 275h3M484 275h1M490 275h1M492 275h1M495 275h1M498 275h1M508 275h1M511 275h1M518 275h1M436 276h1M488 276h1M490 276h1M493 276h1M508 276h1M511 276h1M482 277h1M489 277h2M498 277h1M502 277h1M513 277h1M517 277h1M536 277h1M487 278h1M489 278h2M493 278h2M499 278h1M502 278h1M515 278h1M465 279h1M479 279h1M488 279h1M502 279h2M508 279h1M514 279h1M465 280h1M494 280h1M497 280h1M504 280h1M517 280h1M481 281h1M491 281h1M499 281h1M475 282h1M485 282h1M489 282h1M491 282h1M498 282h1M470 283h1M488 283h1M490 283h1M493 283h2M497 283h1M491 284h1M506 284h1M520 284h1M439 285h1M463 285h1M475 285h1M480 285h1M482 285h1M493 285h1M503 285h1M480 286h1M491 286h1M494 286h1M504 286h1M468 287h2M490 287h1M495 287h1M508 287h1M460 288h1M475 288h1M478 288h1M484 288h1M486 288h1M504 288h1M487 289h1M497 289h1M501 289h1M509 289h2M482 290h1M492 290h1M484 291h1M494 291h1M453 292h1M471 292h1M474 292h1M492 292h1M496 292h1M501 292h1M448 293h1M460 293h1M479 293h1M495 293h1M511 293h1M518 293h2M481 294h1M484 294h1M491 294h1M506 294h1M470 295h1M476 295h1M485 295h1M494 295h1M496 295h1M469 296h1M472 296h1M492 296h1M467 297h1M505 297h1M488 298h1M491 298h1M509 298h1M471 299h1M479 299h1M530 299h1M484 300h1M503 300h1M509 300h1M466 302h1M478 302h1M531 302h1M444 303h1M461 303h1M499 303h1M506 303h1M447 304h1M481 304h1M505 304h2M494 305h1M526 305h1M456 307h1M451 308h1M506 308h1M512 308h1M500 309h1M503 309h1M482 310h1M497 312h1M511 312h1M501 314h1M490 319h1M527 324h1M515 339h1M524 440h1M506 445h1M486 446h1M498 446h1M524 446h1M477 448h1M493 448h1M521 448h1M527 448h1M500 449h1M527 449h1M510 450h1M514 450h1M519 451h1M534 451h1M521 456h1M534 458h1M534 460h1M491 461h1M491 464h1M519 464h1M502 468h1M477 469h1M483 469h1M531 469h1M513 470h1M530 472h1M501 474h1M514 474h1M515 475h1M525 476h1M535 477h1M487 478h1M495 482h1M523 483h1M506 485h1M538 489h1M463 492h1M535 493h1M458 495h1M461 495h1M532 495h1M452 496h1M503 499h1M462 500h1M462 501h1M471 501h1M529 501h1M452 502h1M498 502h1M461 503h1M468 503h1M518 503h1M477 506h1M461 507h2M468 508h1M472 508h1M460 511h1M468 511h1M479 511h1M501 511h1M536 511h1M453 512h1M459 512h1M485 512h1M475 513h1M524 513h1M465 514h1M470 514h1M478 514h1M489 514h1M457 515h1M469 515h1M471 515h1M476 515h1M511 515h1M464 516h1M485 516h1M474 517h1M476 517h1M462 518h1M451 519h1M465 519h1M468 519h1M474 519h1M476 519h1M469 520h1M475 520h1M477 520h1M474 521h1M497 521h1M480 522h1M482 522h1M488 522h1M536 522h1M469 523h1M472 523h1M486 523h1M499 523h1M516 523h1M467 524h1M473 524h2M483 524h2M490 524h1M458 525h1M472 525h1M500 525h1M499 526h1M520 526h1M463 527h1M472 527h1M509 527h1M523 527h1M463 528h1M467 528h1M461 529h1M468 529h1M473 529h1M492 529h1M514 529h1M524 529h1M477 530h1M479 530h1M519 530h1M469 531h1M486 531h1M490 531h1M496 531h1M468 532h1M474 532h1M478 532h1M476 533h1M478 533h1M503 533h1M468 534h1M473 534h1M480 534h1M482 534h1M466 535h1M480 535h1M482 535h1M496 535h1M521 535h1M473 536h1M478 536h1M483 536h1M499 536h1M469 537h1M474 537h1M476 537h1M480 537h1M484 537h1M495 537h1M497 537h1M499 537h1M478 538h1M480 538h1M483 538h1M524 538h1M490 539h1M492 539h1M470 540h1M478 540h1M486 540h1M488 540h1M492 540h1M516 540h1M476 541h1M491 541h3M488 542h1M491 542h2M494 542h1M499 542h1M520 542h1M534 542h1M484 543h1M486 543h1M494 543h1M499 543h1M469 544h1M488 544h1M490 544h1M476 545h1M478 545h1M457 546h1M471 546h1M480 546h1M494 546h1M518 546h1M462 547h1M479 547h1M485 547h1M488 547h2M512 547h1M473 548h1M485 548h2M492 548h1M505 548h1M465 549h1M478 549h1M485 549h1M504 549h1M486 550h3M495 550h1M503 550h1M518 550h1M483 551h1M492 551h2M524 551h1M471 552h2M477 552h1M484 552h1M481 553h1M485 553h1M490 553h1M496 553h1M504 553h1M467 554h1M479 554h2M489 554h1M488 555h1M490 555h1M511 555h1M478 556h1M480 556h1M484 556h1M490 556h1M494 556h1M472 557h1M476 557h1M481 557h1M483 557h1M485 557h2M471 558h1M477 558h2M481 558h2M484 558h1M486 558h1M492 558h1M494 558h1M496 558h1M475 559h2M480 559h1M486 559h1M489 559h3M500 559h1M504 559h1M533 559h1M472 560h1M488 560h1M513 560h1M473 561h1M482 561h1M485 561h1M488 561h1M493 561h1M497 561h1M482 562h1M490 562h1M492 562h1M504 562h1M480 563h1M497 563h1M483 564h1M485 564h1M487 564h1M490 564h1M492 564h1M494 564h4M479 565h1M494 565h1M496 565h1M502 565h1M507 565h1M478 566h1M483 566h2M486 566h1M492 566h1M495 566h1M474 567h1M486 567h1M488 567h3M495 567h1M497 567h1M473 568h1M484 568h2M487 568h2M492 568h1M494 568h1M498 568h1M488 569h1M490 569h1M492 569h1M497 569h2M500 569h1M482 570h1M484 570h1M499 570h1M503 570h1M469 571h1M485 571h1M488 571h1M495 571h2M502 571h1M507 571h1M489 572h1M494 572h2M497 572h1M499 572h1M503 572h1M507 572h1M474 573h1M500 573h1M491 574h3M496 574h1M498 574h2M507 574h1M511 574h1M485 575h1M497 575h1M499 575h1M503 575h1M508 575h1M489 576h5M497 576h2M502 576h1M494 577h1M503 577h1M505 577h1M494 578h1M496 578h2M501 578h2M492 579h1M497 579h1M500 579h1M477 580h1M486 580h1M488 580h2M494 580h1M500 580h1M502 580h1M509 580h1M516 580h1M480 581h1M488 581h1M495 581h3M499 581h2M488 582h1M490 583h1M494 583h1M497 583h1M502 583h1M536 583h1M473 584h1M482 584h1M490 584h2M493 584h1M501 584h1M508 584h1M498 585h2M502 585h1M513 585h1M485 586h1M488 586h1M491 586h2M506 586h1M510 586h1M483 587h1M492 587h1M495 587h1M510 587h2M519 587h1M487 588h1M492 588h1M499 588h3M504 588h1M494 589h1M497 589h1M502 589h3M512 589h1M466 590h1M485 590h1M490 590h1M501 590h1M503 590h2M507 590h2M489 591h1M500 591h3M512 591h1M524 591h1M494 592h1M505 592h2M492 593h1M497 593h3M501 593h2M504 593h1M508 593h2M492 594h1M496 594h1M501 594h1M504 594h1M507 594h1M513 594h1M520 594h1M490 595h1M495 595h1M499 595h1M502 595h1M504 595h4M498 596h3M516 596h1M524 596h1M492 597h1M499 597h1M506 597h1M500 598h2M505 598h1M507 598h1M509 598h1M519 598h1M499 599h1M504 599h1M509 599h1M511 599h3M504 600h1M508 600h1M513 600h1M515 600h1M519 600h1M496 601h1M502 601h1M507 601h1M510 601h3M524 601h1M530 601h1M507 602h3M515 602h1M501 603h1M506 603h1M508 603h1M514 603h2M495 604h2M504 604h1M507 604h1M513 604h1M515 604h1M518 604h1M522 604h1M527 604h1M537 604h1M501 605h2M509 605h1M512 605h3M521 605h1M543 605h1M567 605h1M504 606h3M508 606h1M510 606h1M512 606h1M515 606h1M519 606h1M522 606h1M499 607h1M505 607h1M509 607h1M511 607h1M514 607h1M527 607h1M506 608h1M511 608h1M516 608h1M519 608h1M522 608h1M505 609h1M507 609h1M510 609h3M533 609h1M513 610h1M516 610h1M521 610h2M498 611h2M504 611h1M513 611h1M515 611h1M517 611h1M523 611h1M511 612h1M516 612h2M523 612h1M529 612h1M506 613h1M520 613h1M522 613h1M508 614h1M521 614h1M523 614h1M538 614h1M507 615h1M510 615h1M513 615h1M526 615h1M531 615h1M570 615h1M517 616h1M519 616h1M521 616h1M530 616h1M552 616h1M536 617h1M503 618h1M513 618h2M520 618h1M523 618h2M530 618h1M501 619h1M519 619h1M521 619h1M523 619h1M528 619h1M497 620h1M515 620h1M526 620h2M536 620h1M514 621h1M516 621h1M518 621h1M522 621h2M529 621h1M564 621h1M509 622h1M516 622h1M518 623h2M526 623h1M539 623h1M526 624h1M530 624h1M534 624h2M519 625h1M534 625h1M537 625h1M554 625h1M598 625h1M521 626h2M525 626h1M527 626h1M538 626h1M542 626h1M521 627h1M525 627h1M530 627h1M534 627h1M528 628h1M530 628h1M511 629h1M530 629h1M546 629h1M525 630h1M543 630h1M588 630h1M528 631h1M534 631h1M549 631h1M520 632h1M525 632h1M535 633h1M537 633h2M542 633h1M550 633h1M524 634h1M530 634h1M565 634h1M533 635h1M538 635h1M550 635h1M523 636h1M535 636h1M541 636h1M593 636h1M533 637h1M508 638h1M529 638h1M543 638h1M548 638h1M522 640h1M528 640h2M547 640h1M548 641h1M555 641h1M554 642h2M549 643h1M543 644h1M547 644h1M557 644h1M542 645h1M556 645h1M542 646h1M546 646h1M526 647h1M539 647h1M548 647h1M527 648h1M541 648h1M564 648h1M556 649h1M558 649h1M551 650h1M555 651h1M535 652h1M544 652h1M536 653h1M552 653h1M552 654h1M538 655h1M561 655h1M574 655h1M560 656h1M568 656h1M543 657h1M551 657h1M573 657h1M535 658h2M553 658h1M564 659h1M551 660h1M564 660h1M547 663h1M550 664h1M559 665h1M570 665h1M553 666h1M566 666h1M582 667h1M552 668h1M571 668h1M603 668h1M566 669h1M569 669h1M560 671h1M578 671h1M585 673h1M597 673h1M578 674h1M566 675h1M641 675h1M542 676h1M593 676h1M552 677h1M559 677h1M575 677h1M585 677h1M584 678h1M633 678h1M572 679h1M582 679h1M559 680h1M576 682h1M585 683h1M577 684h1M577 685h1M587 685h1M571 686h1M580 686h1M601 686h1M572 688h1M579 689h1M580 690h1M570 695h1M596 695h1M644 706h1M588 710h1M642 712h1M566 713h1M636 715h1M612 719h1M563 724h1M572 725h1M584 727h1M582 729h1M558 732h1M582 738h1M626 747h1M591 753h1M643 768h1"/>
<path stroke="#ffff00" d="M335 120h1M276 128h1M322 137h1M289 140h1M356 145h1M280 152h1M319 157h1M329 158h1M352 158h1M360 168h1M281 175h1M336 175h1M312 177h1M315 177h1M380 178h1M323 180h1M373 182h1M350 186h1M330 188h1M285 192h1M321 192h1M313 193h1M286 195h1M272 196h1M299 196h1M288 198h1M309 199h1M278 201h1M349 201h1M339 203h1M387 203h1M343 205h1M388 206h1M343 208h1M309 209h1M337 209h1M342 210h1M282 211h1M343 212h1M361 212h1M399 212h1M333 214h1M294 215h1M355 217h1M298 224h1M278 225h1M313 226h1M354 226h1M360 226h1M312 228h1M350 228h1M300 229h1M349 229h1M279 230h1M321 230h1M344 231h1M393 231h1M378 232h1M401 233h1M288 234h1M287 237h1M338 237h1M388 237h1M397 237h1M315 239h1M333 240h1M371 240h1M360 241h1M285 243h1M281 246h1M381 246h1M277 250h1M301 250h1M393 250h1M319 252h1M379 252h1M292 253h1M295 255h1M343 255h1M351 255h1M377 255h1M386 255h1M362 256h1M313 257h1M361 257h1M346 259h1M348 259h1M416 259h1M357 260h1M360 260h1M369 260h1M359 261h1M282 262h1M358 262h1M365 262h1M391 262h1M363 263h1M389 263h1M286 264h1M314 264h1M344 264h1M355 264h1M382 264h1M291 265h1M297 265h1M351 265h1M353 265h2M371 265h1M382 265h1M398 265h1M298 266h1M341 266h1M354 266h1M362 266h1M375 266h1M382 266h1M401 266h1M347 267h1M349 267h1M379 267h1M283 268h1M327 268h1M382 268h1M390 268h2M272 269h1M338 269h1M345 269h1M347 269h1M349 269h1M359 269h2M375 269h2M403 269h1M315 270h1M347 270h1M349 270h1M353 270h1M355 270h1M358 270h2M363 270h1M418 270h1M348 271h1M351 271h1M355 271h1M362 271h1M364 271h1M366 271h1M376 271h1M390 271h1M329 272h1M338 272h1M340 272h1M351 272h1M328 273h1M339 273h1M381 273h1M393 273h1M296 274h1M322 274h1M345 274h1M348 274h1M352 274h1M377 274h1M380 274h1M384 274h1M390 274h1M337 275h1M349 275h1M353 275h1M356 275h1M359 275h3M364 275h1M371 275h1M374 275h1M346 276h1M351 276h1M365 276h1M368 276h2M377 276h1M379 276h1M275 277h2M328 277h1M341 277h1M357 277h2M360 277h2M369 277h2M375 277h1M379 277h1M389 277h1M396 277h1M317 278h1M319 278h1M336 278h1M355 278h2M358 278h1M375 278h1M383 278h1M306 279h1M344 279h1M347 279h1M352 279h1M358 279h1M363 279h1M365 279h1M373 279h1M376 279h1M384 279h2M387 279h1M321 280h1M329 280h1M344 280h1M348 280h1M353 280h1M358 280h1M361 280h1M366 280h1M369 280h1M372 280h1M374 280h1M384 280h2M388 280h1M328 281h1M338 281h1M340 281h1M342 281h1M346 281h1M352 281h1M357 281h1M369 281h1M371 281h1M378 281h1M382 281h1M385 281h1M273 282h1M284 282h1M290 282h1M329 282h1M332 282h1M335 282h1M341 282h1M347 282h1M361 282h2M364 282h1M370 282h1M376 282h3M385 282h2M350 283h2M357 283h2M360 283h1M362 283h1M367 283h1M377 283h1M382 283h1M294 284h2M332 284h1M336 284h1M348 284h1M351 284h1M354 284h2M357 284h2M361 284h2M365 284h1M369 284h1M374 284h1M382 284h1M384 284h1M300 285h1M335 285h1M340 285h1M349 285h2M355 285h1M367 285h1M371 285h2M374 285h1M376 285h1M382 285h1M387 285h2M403 285h2M317 286h1M334 286h1M340 286h1M346 286h1M352 286h1M359 286h1M361 286h1M365 286h1M367 286h2M373 286h1M375 286h1M382 286h1M339 287h1M351 287h1M362 287h2M366 287h4M373 287h2M380 287h1M385 287h1M391 287h1M394 287h1M333 288h1M349 288h1M356 288h1M361 288h1M363 288h2M366 288h1M369 288h1M372 288h1M375 288h1M377 288h1M379 288h1M382 288h1M398 288h1M347 289h3M351 289h2M356 289h1M359 289h2M362 289h1M365 289h4M370 289h1M373 289h1M376 289h1M395 289h1M290 290h1M335 290h1M338 290h1M342 290h2M345 290h1M361 290h1M374 290h1M376 290h1M382 290h1M384 290h1M314 291h1M344 291h1M346 291h1M349 291h2M352 291h2M355 291h2M359 291h4M364 291h2M370 291h1M304 292h1M331 292h1M336 292h2M340 292h1M343 292h1M348 292h1M350 292h6M357 292h1M360 292h3M370 292h1M389 292h1M402 292h1M340 293h1M344 293h1M348 293h1M350 293h1M352 293h1M358 293h3M276 294h1M325 294h1M328 294h1M338 294h4M350 294h1M353 294h2M356 294h1M358 294h1M326 295h1M334 295h1M345 295h1M352 295h4M357 295h2M329 296h1M334 296h1M345 296h1M349 296h1M355 296h1M407 296h1M282 297h1M285 297h1M321 297h1M330 297h1M333 297h1M343 297h1M347 297h3M352 297h3M356 297h3M324 298h1M338 298h4M344 298h1M346 298h2M349 298h1M352 298h1M354 298h2M357 298h2M399 298h1M302 299h1M319 299h1M337 299h1M340 299h1M343 299h1M345 299h3M350 299h3M355 299h1M301 300h1M328 300h1M330 300h1M334 300h1M348 300h1M350 300h1M353 300h1M337 301h2M340 301h1M344 301h2M351 301h2M284 302h1M322 302h1M340 302h1M342 302h1M344 302h2M347 302h1M351 302h1M353 302h1M299 303h1M329 303h1M334 303h1M337 303h1M343 303h4M348 303h2M351 303h3M326 304h1M333 304h1M339 304h3M344 304h3M348 304h1M352 304h2M304 305h1M327 305h1M345 305h1M349 305h4M295 306h1M332 306h1M337 306h2M340 306h1M342 306h2M346 306h1M350 306h3M399 306h1M289 307h1M323 307h1M339 307h1M341 307h2M344 307h2M348 307h3M291 308h1M331 308h1M334 308h2M337 308h1M341 308h1M343 308h1M345 308h1M347 308h2M351 308h1M403 308h1M336 309h1M341 309h1M348 309h3M352 309h2M290 310h1M324 310h1M334 310h1M338 310h1M346 310h1M351 310h3M300 311h1M307 311h1M326 311h1M329 311h1M332 311h1M341 311h2M344 311h1M351 311h1M353 311h2M356 311h1M389 311h1M325 312h1M337 312h1M342 312h1M344 312h1M349 312h2M353 312h2M389 312h1M279 313h1M282 313h1M317 313h1M334 313h1M338 313h1M340 313h4M346 313h1M348 313h2M394 313h1M287 314h1M318 314h1M335 314h1M341 314h1M348 314h1M352 314h5M287 315h1M329 315h1M331 315h1M340 315h1M346 315h1M395 315h1M280 316h1M285 316h1M287 316h1M324 316h1M335 316h1M342 316h1M346 316h1M353 316h4M388 316h1M392 316h1M324 317h1M331 317h1M346 317h2M351 317h2M356 317h3M330 318h1M354 318h1M359 318h2M385 318h1M394 318h1M396 318h1M323 319h1M341 319h2M351 319h1M353 319h6M362 319h1M365 319h1M370 319h1M385 319h2M395 319h1M326 320h1M331 320h1M336 320h1M341 320h2M345 320h1M350 320h1M352 320h5M360 320h1M367 320h3M372 320h1M384 320h1M339 321h1M342 321h1M349 321h1M351 321h1M354 321h1M357 321h1M362 321h1M364 321h3M369 321h1M392 321h2M339 322h1M343 322h1M354 322h2M358 322h1M362 322h1M366 322h2M371 322h2M383 322h1M295 323h1M305 323h1M329 323h1M337 323h1M345 323h1M347 323h1M351 323h3M355 323h2M364 323h1M366 323h1M382 323h1M280 324h1M284 324h1M312 324h1M341 324h1M349 324h1M354 324h3M359 324h1M361 324h1M366 324h3M371 324h1M373 324h2M380 324h1M287 325h1M345 325h1M347 325h1M349 325h1M359 325h7M368 325h3M372 325h1M385 325h2M290 326h1M345 326h3M350 326h3M356 326h1M359 326h1M361 326h1M364 326h2M368 326h1M372 326h1M375 326h2M379 326h1M405 326h1M282 327h1M292 327h1M333 327h1M335 327h1M339 327h1M349 327h3M353 327h1M357 327h1M362 327h3M367 327h1M369 327h1M373 327h2M376 327h1M384 327h1M285 328h1M289 328h1M298 328h1M302 328h1M315 328h1M330 328h2M334 328h1M349 328h1M351 328h2M354 328h2M361 328h3M368 328h1M378 328h1M383 328h1M385 328h1M387 328h1M389 328h1M392 328h1M279 329h1M281 329h2M318 329h1M332 329h1M336 329h1M341 329h1M343 329h1M346 329h1M350 329h2M353 329h2M362 329h1M364 329h1M375 329h1M377 329h1M379 329h1M287 330h1M291 330h1M308 330h1M330 330h1M349 330h2M352 330h2M359 330h1M363 330h1M368 330h2M373 330h1M375 330h2M380 330h1M382 330h1M344 331h1M347 331h1M349 331h1M351 331h1M355 331h1M359 331h3M381 331h1M283 332h2M315 332h1M324 332h1M334 332h1M338 332h1M347 332h1M358 332h3M363 332h2M366 332h1M369 332h1M371 332h1M382 332h1M384 332h1M279 333h1M295 333h1M342 333h1M348 333h1M358 333h1M360 333h1M368 333h2M372 333h1M386 333h1M318 334h1M340 334h1M344 334h1M349 334h2M352 334h2M356 334h2M369 334h1M287 335h1M309 335h1M339 335h1M345 335h1M348 335h1M350 335h1M358 335h1M362 335h1M371 335h1M384 335h1M289 336h2M335 336h1M344 336h3M351 336h1M356 336h1M358 336h1M360 336h1M364 336h2M376 336h2M380 336h1M281 337h1M287 337h3M298 337h1M320 337h1M351 337h1M357 337h2M371 337h1M377 337h1M287 338h1M295 338h1M299 338h1M306 338h1M324 338h1M329 338h1M355 338h1M357 338h1M360 338h1M363 338h1M368 338h1M370 338h1M386 338h1M284 339h1M292 339h1M329 339h1M334 339h1M337 339h1M353 339h1M359 339h1M363 339h2M369 339h1M372 339h1M277 340h1M279 340h2M283 340h1M305 340h1M334 340h1M336 340h1M355 340h1M359 340h1M368 340h1M384 340h1M308 341h1M360 341h2M364 341h1M378 341h1M382 341h1M278 342h2M294 342h1M342 342h1M370 342h1M273 343h1M278 343h2M294 343h1M314 343h1M318 343h1M357 343h1M359 343h1M370 343h2M373 343h1M378 343h1M384 343h1M286 344h1M304 344h1M328 344h1M278 345h1M285 345h1M288 345h1M295 345h1M303 345h1M361 345h1M378 345h1M269 346h1M280 346h1M287 346h1M294 346h1M313 346h1M338 346h1M342 346h1M352 346h1M358 346h1M385 346h1M279 347h1M284 347h1M305 347h1M310 347h1M343 347h1M366 347h1M372 347h1M274 348h1M276 348h1M279 348h1M306 348h1M360 348h1M367 348h2M372 348h1M281 349h1M299 349h1M343 349h1M346 349h1M359 349h1M362 349h1M278 350h1M280 350h1M329 350h1M360 350h1M362 350h1M275 351h1M278 351h1M282 351h1M284 351h1M288 351h1M294 351h1M304 351h1M338 351h1M343 351h1M345 351h1M347 351h1M349 351h1M373 351h1M275 352h1M299 352h1M315 352h1M353 352h1M368 352h1M276 353h1M278 353h1M290 353h1M297 353h1M307 353h1M321 353h1M330 353h1M340 353h1M343 353h1M361 353h1M274 354h1M280 354h1M288 354h1M292 354h1M299 354h1M322 354h1M332 354h1M278 355h1M284 355h1M288 355h1M296 355h1M306 355h1M321 355h1M330 355h1M345 355h1M272 356h1M280 356h1M283 356h1M292 356h1M306 356h1M326 356h1M328 356h1M372 356h1M275 357h1M278 357h1M280 357h1M285 357h2M335 357h1M345 357h1M358 357h1M273 358h1M275 358h1M281 358h2M286 358h1M288 358h1M297 358h1M300 358h1M323 358h1M335 358h1M344 358h2M361 358h1M371 358h1M373 358h1M277 359h1M283 359h1M286 359h1M316 359h1M352 359h1M275 360h2M279 360h1M282 360h1M291 360h1M293 360h1M309 360h1M377 360h1M276 361h1M281 361h1M284 361h1M288 361h1M291 361h1M302 361h2M341 361h1M274 362h1M277 362h1M279 362h1M284 362h1M286 362h1M289 362h1M291 362h1M294 362h1M300 362h1M307 362h1M317 362h1M326 362h1M276 363h1M281 363h3M293 363h1M301 363h1M314 363h1M344 363h2M277 364h1M280 364h2M283 364h1M286 364h1M288 364h1M292 364h3M296 364h1M369 364h1M276 365h3M281 365h3M291 365h1M303 365h1M315 365h1M334 365h1M338 365h1M341 365h1M366 365h1M274 366h1M325 366h1M365 366h1M370 366h1M276 367h1M279 367h4M284 367h3M292 367h2M307 367h1M314 367h1M316 367h1M321 367h1M324 367h1M326 367h1M281 368h1M286 368h1M288 368h3M302 368h2M320 368h1M351 368h1M370 368h1M277 369h1M279 369h2M282 369h2M286 369h1M291 369h2M294 369h1M296 369h1M315 369h1M363 369h1M279 370h2M282 370h3M286 370h2M289 370h1M296 370h1M303 370h1M312 370h1M367 370h1M383 370h1M279 371h1M281 371h3M285 371h2M288 371h2M291 371h2M299 371h1M312 371h1M320 371h1M360 371h1M280 372h1M282 372h1M286 372h5M298 372h1M301 372h1M307 372h1M332 372h1M280 373h1M282 373h1M289 373h1M291 373h1M297 373h1M301 373h1M323 373h1M327 373h1M352 373h1M356 373h1M282 374h1M284 374h1M286 374h1M288 374h3M293 374h1M296 374h2M299 374h1M303 374h1M369 374h1M280 375h4M285 375h3M289 375h1M292 375h1M294 375h1M296 375h1M309 375h1M312 375h2M318 375h1M327 375h1M329 375h1M338 375h1M279 376h5M285 376h1M287 376h1M289 376h2M292 376h1M297 376h1M311 376h1M280 377h2M284 377h2M287 377h3M292 377h1M294 377h2M297 377h1M301 377h1M305 377h2M342 377h1M279 378h4M284 378h1M287 378h1M289 378h1M295 378h1M299 378h1M318 378h1M323 378h1M326 378h1M328 378h1M342 378h1M350 378h1M280 379h1M282 379h1M284 379h4M289 379h2M294 379h2M298 379h1M307 379h1M319 379h1M325 379h1M331 379h1M338 379h1M346 379h1M349 379h1M280 380h1M282 380h1M284 380h1M286 380h2M289 380h1M294 380h2M299 380h1M301 380h2M320 380h1M325 380h1M327 380h1M334 380h1M343 380h2M347 380h1M350 380h1M282 381h1M285 381h1M289 381h1M291 381h6M300 381h3M305 381h1M313 381h1M323 381h1M333 381h1M281 382h4M287 382h1M297 382h1M299 382h2M307 382h1M311 382h1M318 382h1M322 382h1M325 382h1M329 382h1M338 382h1M351 382h1M360 382h1M284 383h5M290 383h2M293 383h1M297 383h1M299 383h3M305 383h1M307 383h1M321 383h1M283 384h1M286 384h1M288 384h2M292 384h1M294 384h4M299 384h4M307 384h1M323 384h2M343 384h1M348 384h1M284 385h2M287 385h1M289 385h4M294 385h1M298 385h2M306 385h1M308 385h1M312 385h1M322 385h1M333 385h1M342 385h1M284 386h1M286 386h1M288 386h3M292 386h5M298 386h2M303 386h1M309 386h1M311 386h1M313 386h1M283 387h3M288 387h2M291 387h2M294 387h1M299 387h1M301 387h1M303 387h2M309 387h1M314 387h1M321 387h1M350 387h1M284 388h2M288 388h1M292 388h1M294 388h1M297 388h1M299 388h1M302 388h1M319 388h1M332 388h2M385 388h1M283 389h2M287 389h1M289 389h7M301 389h1M307 389h1M319 389h1M324 389h1M340 389h1M284 390h1M287 390h1M290 390h2M293 390h3M297 390h1M302 390h2M305 390h2M312 390h1M323 390h1M352 390h1M365 390h1M383 390h1M286 391h3M290 391h8M302 391h1M306 391h1M309 391h1M311 391h1M315 391h1M324 391h1M327 391h2M330 391h1M344 391h1M284 392h3M290 392h1M292 392h5M299 392h1M311 392h1M315 392h2M319 392h1M331 392h1M335 392h1M295 393h6M305 393h1M315 393h1M319 393h1M321 393h1M330 393h1M332 393h2M362 393h1M294 394h2M297 394h1M301 394h4M306 394h1M308 394h1M310 394h1M316 394h1M319 394h1M325 394h1M298 395h2M301 395h1M303 395h1M307 395h1M309 395h1M311 395h2M314 395h1M341 395h3M347 395h1M365 395h1M297 396h1M299 396h3M307 396h1M311 396h1M314 396h1M320 396h1M329 396h2M361 396h1M386 396h1M296 397h4M301 397h1M305 397h2M323 397h2M327 397h1M298 398h1M316 398h1M321 398h1M328 398h1M330 398h1M339 398h1M344 398h1M295 399h3M300 399h1M303 399h2M310 399h2M315 399h3M321 399h2M324 399h1M339 399h1M341 399h1M343 399h1M347 399h1M356 399h2M362 399h1M296 400h3M300 400h1M302 400h2M305 400h3M313 400h2M316 400h1M319 400h1M324 400h2M327 400h1M363 400h1M296 401h1M298 401h2M302 401h2M312 401h2M319 401h1M338 401h1M342 401h1M296 402h3M301 402h1M303 402h2M307 402h1M311 402h1M314 402h1M323 402h1M329 402h1M332 402h1M335 402h1M347 402h1M302 403h1M310 403h1M313 403h2M316 403h1M321 403h1M331 403h1M335 403h1M353 403h1M355 403h1M362 403h1M364 403h1M301 404h5M307 404h2M310 404h1M314 404h4M321 404h1M355 404h1M279 405h1M301 405h8M310 405h1M316 405h1M320 405h1M327 405h1M329 405h1M335 405h1M342 405h1M302 406h1M304 406h2M307 406h1M309 406h3M313 406h1M315 406h1M317 406h1M320 406h1M325 406h1M329 406h1M332 406h1M334 406h1M346 406h1M354 406h1M368 406h1M384 406h1M303 407h3M307 407h2M310 407h1M312 407h2M315 407h1M317 407h1M330 407h1M337 407h1M340 407h3M346 407h1M351 407h1M353 407h1M307 408h3M319 408h1M325 408h2M369 408h1M287 409h1M308 409h1M313 409h5M321 409h1M324 409h1M330 409h1M332 409h1M346 409h1M285 410h1M287 410h3M308 410h1M310 410h3M314 410h1M320 410h1M323 410h1M329 410h1M339 410h1M342 410h1M348 410h2M285 411h1M307 411h3M312 411h4M318 411h2M322 411h4M331 411h1M337 411h1M347 411h1M355 411h1M308 412h1M311 412h2M314 412h1M316 412h1M318 412h1M321 412h1M325 412h2M330 412h1M334 412h1M347 412h1M364 412h1M307 413h2M310 413h1M314 413h2M319 413h4M326 413h2M335 413h1M351 413h1M357 413h1M361 413h1M275 414h1M314 414h3M318 414h1M320 414h1M325 414h1M330 414h1M341 414h1M352 414h1M356 414h1M360 414h2M273 415h1M276 415h3M315 415h2M318 415h1M320 415h3M328 415h1M331 415h1M345 415h1M351 415h2M273 416h1M277 416h1M279 416h1M316 416h2M320 416h1M323 416h2M333 416h2M341 416h1M352 416h1M356 416h1M317 417h4M323 417h1M327 417h2M337 417h1M353 417h1M278 418h2M281 418h1M318 418h1M322 418h1M324 418h2M333 418h1M346 418h1M349 418h1M360 418h1M276 419h1M280 419h3M318 419h2M321 419h1M323 419h3M327 419h1M330 419h1M332 419h2M335 419h1M337 419h1M339 419h1M345 419h1M349 419h1M352 419h1M358 419h1M367 419h1M372 419h1M278 420h1M280 420h1M282 420h1M318 420h1M321 420h1M323 420h1M325 420h1M330 420h1M334 420h1M337 420h2M340 420h1M364 420h1M277 421h2M280 421h2M283 421h1M322 421h3M327 421h2M333 421h1M363 421h1M369 421h1M276 422h1M281 422h1M283 422h2M286 422h1M328 422h2M332 422h2M336 422h1M338 422h1M343 422h1M358 422h1M280 423h1M284 423h5M324 423h4M329 423h1M331 423h2M335 423h1M347 423h1M353 423h1M380 423h1M277 424h1M281 424h2M284 424h5M326 424h9M337 424h1M339 424h1M345 424h1M354 424h1M361 424h1M280 425h1M282 425h1M285 425h5M328 425h1M331 425h1M333 425h2M336 425h2M356 425h1M281 426h2M287 426h3M331 426h2M334 426h2M337 426h1M339 426h2M345 426h1M347 426h1M367 426h1M285 427h1M289 427h2M333 427h3M337 427h2M340 427h2M345 427h1M378 427h1M331 428h3M339 428h1M345 428h1M350 428h1M352 428h1M358 428h1M287 429h5M333 429h2M336 429h4M345 429h1M347 429h3M353 429h1M355 429h1M357 429h1M283 430h1M286 430h1M289 430h6M333 430h1M337 430h2M346 430h1M353 430h1M356 430h1M278 431h1M288 431h4M294 431h1M332 431h2M335 431h1M343 431h1M349 431h1M277 432h1M286 432h1M288 432h1M293 432h3M332 432h2M336 432h6M343 432h2M353 432h3M358 432h1M276 433h1M289 433h1M293 433h1M295 433h5M331 433h4M336 433h4M341 433h3M346 433h2M350 433h1M357 433h1M366 433h1M284 434h1M293 434h1M300 434h1M331 434h1M333 434h3M338 434h1M340 434h1M342 434h2M346 434h2M351 434h1M353 434h1M366 434h1M289 435h2M292 435h1M294 435h1M300 435h3M343 435h2M347 435h1M355 435h1M358 435h1M296 436h1M298 436h4M305 436h3M309 436h1M311 436h3M345 436h1M348 436h1M352 436h1M359 436h1M369 436h1M299 437h2M304 437h1M306 437h2M310 437h1M312 437h1M347 437h1M350 437h1M353 437h1M359 437h1M370 437h1M277 438h1M279 438h1M290 438h1M292 438h1M297 438h2M301 438h2M305 438h2M308 438h1M310 438h1M347 438h3M356 438h1M358 438h1M294 439h1M297 439h1M302 439h1M305 439h8M350 439h3M356 439h2M359 439h1M279 440h1M297 440h2M300 440h2M307 440h1M309 440h1M311 440h1M313 440h2M350 440h1M309 441h1M311 441h10M354 441h2M357 441h1M360 441h1M364 441h1M298 442h1M307 442h1M312 442h7M320 442h2M323 442h1M354 442h2M357 442h1M360 442h1M368 442h1M300 443h1M305 443h2M311 443h1M314 443h2M319 443h1M321 443h2M324 443h1M357 443h1M364 443h1M306 444h1M312 444h1M314 444h4M320 444h1M323 444h2M326 444h1M365 444h2M375 444h1M287 445h1M313 445h1M319 445h1M322 445h3M327 445h3M371 445h1M305 446h1M316 446h1M319 446h1M321 446h2M327 446h4M359 446h1M365 446h1M313 447h1M319 447h2M322 447h2M326 447h1M329 447h1M331 447h3M335 447h1M357 447h1M364 447h1M376 447h1M318 448h1M324 448h1M327 448h2M330 448h7M316 449h1M320 449h1M330 449h1M332 449h1M334 449h4M364 449h1M330 450h1M336 450h1M341 450h1M365 450h1M378 450h1M321 451h1M323 451h1M325 451h1M331 451h1M335 451h1M337 451h4M342 451h1M361 451h1M384 451h1M323 452h1M333 452h1M335 452h1M339 452h1M341 452h2M344 452h1M362 452h1M328 453h1M332 453h1M336 453h2M339 453h1M342 453h1M346 453h1M364 453h2M368 453h1M323 454h1M336 454h6M343 454h1M346 454h2M349 454h1M367 454h1M335 455h1M339 455h1M341 455h1M344 455h2M348 455h1M353 455h1M361 455h1M370 455h1M338 456h1M346 456h1M349 456h2M353 456h1M355 456h1M359 456h1M362 456h1M335 457h1M341 457h1M343 457h1M352 457h1M357 457h1M362 457h2M365 457h2M368 457h1M322 458h1M349 458h2M352 458h2M355 458h1M357 458h1M360 458h1M373 458h1M378 458h1M341 459h1M368 459h1M336 460h1M344 460h1M348 460h1M353 460h1M363 460h1M367 460h1M379 460h1M351 461h1M373 461h1M356 462h1M361 462h1M354 463h1M361 463h1M343 464h1M352 464h1M357 464h1M377 464h1M336 465h1M356 465h1M380 465h1M400 466h1M383 468h1M344 469h1M366 469h1M335 470h1M387 471h1M362 476h1M380 484h1M303 652h1M306 652h1M316 654h1M290 656h1M288 657h1M279 658h1M314 659h1M311 660h1M276 662h1M321 663h1M287 664h1M304 664h1M329 665h1M332 665h1M334 666h1M296 668h1M324 669h1M297 670h1M323 670h1M305 671h1M339 673h2M324 675h1M357 675h1M359 680h1M370 683h1M377 703h1"/>
<path stroke="#c0ffff" d="M119 126h1M125 135h1M117 138h1M118 139h1M116 140h1M109 141h1M113 143h1M123 151h1M134 152h1M130 157h1M137 161h1M130 169h1M127 170h1M117 171h1M121 172h1M130 173h1M140 173h1M101 174h1M135 174h1M104 176h1M118 176h1M96 179h1M122 181h2M105 183h1M99 185h1M129 186h1M118 187h1M108 188h1M119 189h1M100 190h1M118 190h1M125 190h1M99 191h1M106 191h1M113 191h1M132 191h1M111 192h1M136 193h1M114 194h1M125 194h1M130 194h1M130 195h2M129 197h1M135 197h1M105 198h1M112 198h1M125 199h1M126 200h1M126 201h2M115 202h1M117 202h2M121 202h1M139 202h1M125 204h1M116 205h1M128 205h1M134 205h1M128 206h1M127 207h1M130 208h1M118 209h1M131 209h1M117 210h2M103 211h1M111 211h1M120 211h1M134 211h1M138 211h1M108 212h2M121 212h1M133 212h1M110 213h1M112 213h1M116 213h1M119 213h1M125 213h1M129 213h1M112 214h1M114 214h1M118 214h1M124 214h1M116 215h2M125 215h1M112 216h1M115 216h2M118 216h1M123 216h1M125 216h1M128 216h1M133 216h1M137 216h1M105 217h1M111 217h1M120 217h1M122 217h3M134 217h1M138 217h1M114 218h1M117 218h1M119 218h1M124 218h1M126 218h2M136 218h1M108 219h2M112 219h1M118 219h1M121 219h1M124 219h2M129 219h1M119 220h1M130 220h1M133 220h1M137 220h1M103 221h1M118 221h1M125 221h2M129 221h1M110 222h2M117 222h1M122 222h1M125 222h1M128 222h1M138 222h1M108 223h1M114 223h1M119 223h1M122 223h1M124 223h1M126 223h1M97 224h1M102 224h1M108 224h1M111 224h1M113 224h2M117 224h1M130 224h1M138 224h1M113 225h2M116 225h2M119 225h1M126 225h2M133 225h1M135 225h1M105 226h1M108 226h1M115 226h2M118 226h2M125 226h1M127 226h1M106 227h1M110 227h1M112 227h1M115 227h2M126 227h1M128 227h1M111 228h1M120 228h3M124 228h1M129 228h1M117 229h1M119 229h1M126 229h1M139 229h1M111 230h1M114 230h1M116 230h1M119 230h1M121 230h1M124 230h1M127 230h1M116 231h1M126 231h1M129 231h3M137 231h1M139 231h1M115 232h1M118 232h3M127 232h1M108 233h1M113 233h1M118 233h1M120 233h1M133 233h1M138 233h1M140 233h1M110 234h1M114 234h2M120 234h2M123 234h1M125 234h3M141 234h1M111 235h1M115 235h1M119 235h1M122 235h1M124 235h3M129 235h1M132 235h1M140 235h1M91 236h1M115 236h1M123 236h2M126 236h1M129 236h1M131 236h2M136 236h1M112 237h1M116 237h1M118 237h2M121 237h1M124 237h1M127 237h1M133 237h1M136 237h1M113 238h2M116 238h3M123 238h1M125 238h1M133 238h1M139 238h1M113 239h1M115 239h1M118 239h2M121 239h1M125 239h1M131 239h1M136 239h1M142 239h1M101 240h1M113 240h1M115 240h3M119 240h1M121 240h5M128 240h1M131 240h1M108 241h1M112 241h1M115 241h1M119 241h1M122 241h1M124 241h2M128 241h1M130 241h1M134 241h1M109 242h1M116 242h1M118 242h2M123 242h1M126 242h3M132 242h1M134 242h1M138 242h1M140 242h1M111 243h2M114 243h1M121 243h1M128 243h1M130 243h1M134 243h1M111 244h3M115 244h2M118 244h1M120 244h2M123 244h1M125 244h1M128 244h1M133 244h1M135 244h2M139 244h1M141 244h2M100 245h1M108 245h3M113 245h3M117 245h1M119 245h2M123 245h2M126 245h1M128 245h1M136 245h1M139 245h1M145 245h1M108 246h1M112 246h1M114 246h2M117 246h2M121 246h2M125 246h1M127 246h1M137 246h2M142 246h1M146 246h1M117 247h2M122 247h4M130 247h1M110 248h1M117 248h3M125 248h3M131 248h1M112 249h2M115 249h1M117 249h1M120 249h9M131 249h1M133 249h1M135 249h1M106 250h1M108 250h2M111 250h2M114 250h3M119 250h5M125 250h2M131 250h1M133 250h1M135 250h4M118 251h2M121 251h1M124 251h2M130 251h1M134 251h1M141 251h1M112 252h2M119 252h1M121 252h2M124 252h1M126 252h3M131 252h1M134 252h1M139 252h1M144 252h1M114 253h3M120 253h1M122 253h1M125 253h1M132 253h1M139 253h2M115 254h1M118 254h2M121 254h4M127 254h2M133 254h1M108 255h1M111 255h1M115 255h4M121 255h1M123 255h2M126 255h1M130 255h2M133 255h1M135 255h2M110 256h1M115 256h1M117 256h2M120 256h2M123 256h3M127 256h3M137 256h1M106 257h1M113 257h1M115 257h2M118 257h1M123 257h3M128 257h1M131 257h1M134 257h1M140 257h1M110 258h1M113 258h4M119 258h2M122 258h2M126 258h3M130 258h1M132 258h1M134 258h2M138 258h1M116 259h1M118 259h2M124 259h3M129 259h2M132 259h1M149 259h1M151 259h1M108 260h1M115 260h2M119 260h1M122 260h3M129 260h1M131 260h2M135 260h2M139 260h1M112 261h1M114 261h1M119 261h6M129 261h1M133 261h1M138 261h1M140 261h1M113 262h1M115 262h2M118 262h4M123 262h2M126 262h1M128 262h3M132 262h3M136 262h2M142 262h1M104 263h1M117 263h1M122 263h6M129 263h2M132 263h2M137 263h1M113 264h1M118 264h1M121 264h2M124 264h4M129 264h3M134 264h2M140 264h1M144 264h1M105 265h1M117 265h2M121 265h5M128 265h1M130 265h1M132 265h1M134 265h2M137 265h1M140 265h1M112 266h2M115 266h2M121 266h4M129 266h4M134 266h2M143 266h1M102 267h1M112 267h1M114 267h1M117 267h1M120 267h4M125 267h1M127 267h5M133 267h2M136 267h1M149 267h1M115 268h1M117 268h2M121 268h1M123 268h1M125 268h1M127 268h2M131 268h1M136 268h1M108 269h1M113 269h1M115 269h1M118 269h1M120 269h5M126 269h1M128 269h2M131 269h2M134 269h1M136 269h1M113 270h1M119 270h1M122 270h1M124 270h2M127 270h7M136 270h1M138 270h1M117 271h1M119 271h4M124 271h1M126 271h4M132 271h1M118 272h2M122 272h4M129 272h1M132 272h1M135 272h1M138 272h1M143 272h1M111 273h1M114 273h1M116 273h3M120 273h2M123 273h1M125 273h1M128 273h2M133 273h1M135 273h1M121 274h2M124 274h2M127 274h2M131 274h1M134 274h2M137 274h1M139 274h1M115 275h1M122 275h6M130 275h1M132 275h1M134 275h1M117 276h1M120 276h3M124 276h1M127 276h5M133 276h1M135 276h1M146 276h1M116 277h1M120 277h4M127 277h3M131 277h1M134 277h1M114 278h5M120 278h2M124 278h2M128 278h1M130 278h4M135 278h5M115 279h1M120 279h1M122 279h1M125 279h2M128 279h5M135 279h4M142 279h1M123 280h1M126 280h1M130 280h1M132 280h1M135 280h1M137 280h1M140 280h1M115 281h1M118 281h1M120 281h4M127 281h1M129 281h1M131 281h1M141 281h1M113 282h1M118 282h1M126 282h1M128 282h4M139 282h2M107 283h1M118 283h1M123 283h1M129 283h3M150 283h1M123 284h1M125 284h8M134 284h1M121 285h3M125 285h1M127 285h2M131 285h1M133 285h2M136 285h1M142 285h1M129 286h1M134 286h3M139 286h3M121 287h1M123 287h1M126 287h2M129 287h3M139 287h2M149 287h1M118 288h1M122 288h1M124 288h4M129 288h2M136 288h1M143 288h1M147 288h2M122 289h2M129 289h4M137 289h1M146 289h1M117 290h1M121 290h1M123 290h1M126 290h2M130 290h1M135 290h1M137 290h1M139 290h1M123 291h1M127 291h2M130 291h3M121 292h1M126 292h2M129 292h1M131 292h1M133 292h1M135 292h3M143 292h1M123 293h2M127 293h1M129 293h2M134 293h1M137 293h2M121 294h1M123 294h1M126 294h3M132 294h2M135 294h3M143 294h1M119 295h1M123 295h2M126 295h1M128 295h1M131 295h2M128 296h1M131 296h1M133 296h1M135 296h1M142 296h1M125 297h1M129 297h1M134 297h4M140 297h1M121 298h1M123 298h1M125 298h1M128 298h2M133 298h1M137 298h1M139 298h1M141 298h2M125 299h1M130 299h2M133 299h1M141 299h1M143 299h1M128 300h1M130 300h1M132 300h2M138 300h1M110 301h1M126 301h1M132 301h1M136 301h2M125 302h1M128 302h3M132 302h1M134 302h1M122 303h1M126 303h3M130 303h2M136 303h1M127 304h1M133 304h2M129 305h1M131 305h1M135 305h1M121 306h2M127 306h1M132 306h1M126 307h3M136 307h2M133 308h1M135 308h1M141 308h1M113 309h1M123 309h1M127 309h1M140 309h1M137 310h2M129 311h2M132 311h1M138 311h1M147 311h1M134 312h2M137 312h1M139 312h1M132 313h2M143 313h1M135 314h1M137 314h1M145 314h1M152 314h1M133 315h3M131 316h2M140 316h1M133 317h1M137 317h1M142 317h1M129 318h1M128 319h2M138 321h1M145 321h1M141 322h1M144 322h1M145 323h1M116 324h1M137 325h1M143 326h1M144 328h1M136 330h1M130 338h1M121 542h1M121 545h1M124 549h1M122 558h1M128 561h1M124 564h1M128 565h1M134 565h1M121 571h1M144 572h1M128 576h1M138 579h1M150 591h1"/>
<path stroke="#ffffc0" d="M248 128h1M238 133h1M235 136h1M260 145h1M221 147h1M236 148h1M247 151h1M262 153h1M255 154h1M235 155h1M243 155h1M222 157h1M231 157h1M250 160h1M262 161h1M270 171h1M250 173h1M222 175h1M263 175h1M276 175h1M242 182h1M226 187h1M224 188h1M229 188h1M231 192h1M234 194h1M241 194h1M263 200h1M269 202h1M234 204h1M219 205h1M234 205h1M216 206h1M241 206h1M244 206h1M243 207h1M222 208h1M239 208h1M238 210h1M257 211h1M247 212h1M236 213h1M270 215h1M244 216h1M266 216h1M206 221h1M217 221h1M242 222h1M262 222h1M222 223h1M262 224h1M240 225h1M240 226h1M244 227h1M260 227h1M237 228h1M250 228h1M266 233h1M273 235h1M227 236h1M223 237h1M238 238h1M233 239h1M246 240h1M265 240h1M215 242h1M224 242h1M238 242h1M253 242h1M256 242h1M236 243h1M239 243h1M208 244h1M214 244h1M267 244h1M216 245h1M247 245h1M223 247h1M251 248h1M257 249h1M238 250h1M210 251h1M223 251h1M236 251h1M238 251h1M231 252h1M270 252h1M223 255h1M236 255h1M263 255h1M226 257h1M230 257h1M254 258h1M238 259h1M249 259h1M252 259h1M221 260h1M214 261h1M226 261h1M232 261h1M238 261h1M262 262h1M270 262h1M238 263h1M227 264h1M240 264h1M276 264h1M218 265h1M224 265h1M231 265h1M238 265h1M240 265h1M260 265h1M267 265h1M269 265h1M257 266h1M271 266h1M241 267h1M255 267h1M273 267h1M213 268h1M250 268h1M266 268h1M245 269h1M256 270h1M247 271h1M260 271h1M222 272h1M229 272h1M231 272h1M248 272h1M221 273h1M249 273h1M205 274h1M226 274h1M240 274h1M249 274h1M213 275h1M268 275h1M218 276h1M253 276h1M255 276h1M231 277h1M238 277h1M263 278h1M220 279h1M223 279h1M264 279h1M223 280h1M234 280h1M222 281h1M237 281h1M248 281h1M211 282h1M217 282h1M234 282h1M238 282h1M241 282h1M221 283h1M236 283h1M238 283h1M246 283h1M256 283h1M260 283h1M269 283h1M224 284h1M247 284h1M264 284h1M217 285h1M223 285h1M271 285h1M216 286h1M227 286h1M243 286h1M274 286h1M215 287h1M218 287h1M229 288h2M259 288h1M215 289h1M223 289h1M231 289h1M253 289h1M255 289h1M266 289h1M239 290h1M263 290h1M229 291h1M238 291h1M237 292h1M259 292h1M224 294h1M228 294h1M222 295h3M230 296h1M233 296h1M210 297h1M222 297h1M226 297h1M231 297h1M234 297h1M236 297h1M238 297h2M242 297h1M249 297h1M214 298h1M219 298h1M228 298h1M243 298h1M202 299h1M232 299h1M250 299h1M216 300h2M227 300h1M231 300h1M246 300h1M248 300h1M253 300h2M258 300h1M264 300h1M274 300h1M221 301h1M226 301h1M228 301h1M252 301h1M262 301h1M215 302h1M217 302h1M222 302h1M256 302h1M206 303h1M218 303h1M220 303h1M222 303h2M225 303h2M259 303h1M266 303h1M221 304h1M239 304h1M244 304h2M253 304h1M218 305h1M221 305h1M246 305h1M248 305h2M253 305h1M258 305h1M267 305h1M207 306h1M215 306h1M219 306h1M223 306h1M228 306h1M237 306h1M254 306h1M227 307h1M230 307h1M234 307h1M210 308h1M223 308h1M230 308h2M245 308h2M254 308h1M261 308h1M264 308h1M210 309h1M215 309h3M224 309h4M229 309h2M242 309h1M256 309h1M260 309h1M208 310h1M218 310h1M220 310h2M230 310h1M232 310h1M259 310h1M216 311h1M222 311h1M232 311h1M234 311h1M248 311h1M208 312h1M211 312h1M213 312h1M225 312h1M227 312h3M232 312h1M234 312h2M238 312h2M205 313h1M212 313h1M216 313h1M219 313h1M222 313h1M225 313h1M227 313h4M233 313h1M239 313h1M242 313h1M248 313h1M263 313h1M206 314h1M214 314h1M217 314h1M219 314h1M221 314h1M223 314h6M230 314h2M233 314h1M240 314h3M251 314h1M224 315h2M228 315h1M233 315h1M237 315h1M239 315h2M245 315h1M252 315h1M216 316h1M218 316h1M225 316h2M231 316h3M235 316h4M241 316h2M245 316h2M255 316h1M271 316h2M216 317h1M219 317h1M225 317h1M227 317h1M229 317h3M233 317h2M236 317h1M238 317h2M245 317h2M248 317h1M254 317h1M261 317h1M206 318h1M219 318h3M223 318h3M228 318h1M230 318h1M233 318h2M238 318h1M247 318h1M278 318h1M202 319h1M212 319h1M216 319h1M219 319h1M224 319h1M226 319h1M231 319h1M233 319h2M236 319h2M239 319h2M242 319h2M245 319h1M258 319h1M274 319h1M204 320h1M212 320h1M217 320h1M219 320h2M223 320h1M227 320h6M236 320h1M239 320h2M245 320h1M252 320h2M257 320h1M265 320h1M272 320h1M211 321h1M215 321h4M220 321h1M223 321h3M227 321h1M229 321h1M232 321h3M240 321h4M245 321h2M267 321h1M209 322h1M218 322h1M220 322h1M222 322h2M225 322h1M227 322h1M229 322h2M232 322h1M239 322h1M244 322h1M250 322h1M252 322h1M257 322h1M213 323h1M222 323h1M226 323h4M231 323h1M233 323h2M238 323h2M241 323h1M243 323h1M257 323h1M206 324h1M213 324h1M219 324h1M221 324h1M223 324h2M226 324h2M229 324h3M234 324h3M241 324h1M243 324h3M247 324h1M249 324h1M264 324h1M268 324h1M207 325h1M217 325h1M220 325h1M223 325h2M226 325h2M229 325h2M234 325h1M238 325h4M243 325h1M246 325h1M251 325h1M253 325h2M268 325h1M215 326h1M218 326h2M223 326h7M231 326h2M234 326h1M238 326h1M240 326h3M249 326h1M256 326h1M258 326h1M218 327h1M221 327h1M225 327h1M227 327h1M229 327h1M232 327h4M237 327h3M241 327h1M246 327h1M248 327h1M250 327h1M253 327h1M256 327h1M258 327h1M263 327h1M268 327h1M209 328h1M216 328h1M218 328h2M221 328h1M226 328h1M229 328h3M233 328h1M236 328h2M240 328h1M243 328h1M245 328h1M253 328h1M258 328h1M213 329h1M215 329h1M223 329h4M228 329h4M236 329h3M241 329h4M247 329h3M262 329h1M266 329h1M269 329h1M218 330h1M220 330h5M230 330h1M232 330h1M235 330h3M240 330h1M242 330h1M245 330h1M250 330h1M253 330h1M257 330h1M263 330h3M267 330h1M211 331h1M220 331h2M224 331h6M231 331h1M233 331h2M237 331h2M240 331h2M243 331h4M256 331h1M261 331h1M263 331h1M265 331h1M272 331h1M211 332h1M215 332h1M221 332h1M227 332h8M238 332h5M246 332h1M254 332h1M256 332h1M262 332h1M265 332h2M272 332h1M219 333h1M221 333h1M225 333h1M227 333h1M229 333h2M234 333h3M239 333h1M242 333h2M245 333h1M247 333h3M251 333h1M256 333h1M262 333h1M265 333h1M206 334h1M209 334h1M211 334h1M214 334h1M218 334h1M220 334h2M225 334h2M228 334h2M231 334h1M236 334h1M243 334h2M246 334h2M250 334h1M255 334h1M262 334h4M267 334h1M275 334h1M209 335h2M213 335h1M215 335h1M219 335h2M223 335h1M225 335h1M227 335h3M231 335h1M233 335h6M241 335h2M244 335h2M247 335h1M249 335h3M257 335h1M260 335h1M263 335h1M268 335h2M271 335h1M211 336h1M213 336h2M219 336h1M224 336h4M229 336h2M232 336h16M251 336h2M259 336h1M262 336h2M266 336h1M275 336h1M207 337h1M210 337h1M213 337h1M217 337h1M219 337h2M223 337h3M227 337h3M235 337h7M243 337h2M247 337h2M250 337h2M253 337h1M255 337h1M257 337h1M259 337h2M262 337h1M266 337h2M273 337h1M223 338h3M228 338h2M231 338h2M236 338h1M238 338h4M243 338h2M249 338h1M251 338h1M253 338h1M255 338h1M257 338h1M260 338h1M262 338h2M265 338h2M268 338h1M270 338h1M274 338h1M214 339h1M216 339h1M219 339h3M223 339h2M226 339h2M231 339h5M237 339h6M245 339h1M249 339h2M253 339h2M258 339h1M260 339h3M275 339h2M206 340h1M208 340h1M218 340h1M221 340h1M223 340h3M227 340h2M230 340h2M233 340h2M236 340h3M241 340h5M247 340h5M254 340h5M261 340h1M263 340h1M265 340h1M268 340h1M273 340h1M276 340h1M213 341h1M216 341h1M218 341h2M224 341h1M227 341h4M233 341h3M238 341h1M240 341h1M242 341h2M245 341h1M248 341h4M253 341h2M256 341h1M262 341h1M264 341h2M268 341h1M274 341h1M211 342h1M213 342h1M215 342h1M217 342h4M222 342h1M224 342h10M235 342h1M237 342h1M239 342h6M247 342h7M255 342h1M260 342h3M265 342h1M267 342h1M269 342h1M215 343h7M223 343h2M226 343h8M235 343h6M242 343h2M245 343h2M248 343h3M252 343h1M255 343h1M258 343h2M262 343h4M267 343h3M275 343h1M212 344h2M216 344h1M218 344h2M221 344h1M224 344h3M229 344h5M236 344h1M238 344h5M244 344h2M247 344h1M251 344h1M254 344h2M257 344h2M261 344h1M264 344h3M212 345h1M217 345h1M221 345h4M226 345h7M236 345h5M242 345h1M244 345h1M247 345h2M250 345h4M257 345h4M262 345h1M266 345h2M270 345h1M273 345h1M276 345h1M216 346h6M223 346h5M229 346h3M233 346h8M242 346h4M247 346h3M251 346h1M253 346h2M256 346h1M258 346h2M261 346h2M264 346h1M266 346h1M270 346h1M273 346h2M210 347h1M214 347h1M219 347h3M223 347h2M228 347h1M231 347h1M233 347h1M235 347h5M241 347h2M246 347h3M250 347h5M256 347h2M259 347h4M267 347h2M273 347h1M276 347h1M207 348h1M215 348h1M217 348h2M220 348h1M222 348h1M224 348h1M227 348h2M230 348h2M233 348h3M237 348h2M240 348h2M243 348h1M245 348h2M248 348h1M254 348h1M256 348h2M259 348h1M262 348h5M272 348h1M216 349h1M220 349h7M228 349h6M235 349h1M238 349h3M242 349h1M245 349h2M249 349h1M252 349h4M257 349h3M262 349h3M210 350h1M212 350h1M218 350h2M221 350h2M224 350h5M231 350h2M234 350h1M236 350h2M239 350h6M248 350h4M253 350h1M257 350h8M268 350h1M214 351h1M218 351h1M222 351h1M225 351h6M232 351h8M242 351h1M244 351h1M247 351h1M251 351h1M253 351h1M255 351h2M258 351h2M261 351h1M265 351h1M267 351h2M215 352h4M223 352h1M225 352h2M229 352h4M235 352h4M240 352h6M247 352h1M249 352h8M259 352h5M265 352h2M268 352h2M271 352h2M274 352h1M213 353h2M220 353h5M227 353h1M229 353h1M231 353h1M233 353h1M236 353h5M242 353h1M244 353h3M248 353h3M254 353h1M256 353h2M259 353h1M262 353h1M267 353h1M269 353h3M212 354h1M217 354h1M219 354h1M223 354h1M225 354h1M228 354h4M235 354h2M238 354h4M243 354h1M245 354h2M248 354h3M252 354h6M261 354h2M264 354h2M269 354h2M272 354h1M275 354h2M219 355h1M224 355h9M234 355h3M239 355h7M249 355h8M259 355h1M261 355h2M265 355h3M269 355h1M272 355h2M211 356h1M213 356h1M216 356h1M223 356h7M231 356h5M237 356h1M240 356h3M244 356h1M246 356h2M249 356h1M251 356h2M254 356h5M260 356h1M263 356h1M265 356h2M269 356h3M216 357h1M219 357h2M223 357h3M227 357h2M230 357h1M232 357h4M237 357h2M240 357h1M242 357h4M248 357h6M255 357h8M264 357h5M271 357h3M210 358h1M216 358h1M219 358h1M222 358h1M224 358h1M226 358h1M228 358h1M230 358h1M232 358h1M235 358h2M238 358h1M241 358h1M243 358h1M245 358h2M248 358h4M253 358h3M257 358h2M260 358h1M264 358h7M272 358h1M277 358h1M212 359h1M215 359h1M222 359h3M227 359h2M230 359h2M235 359h1M237 359h7M245 359h4M250 359h1M252 359h4M257 359h3M262 359h2M265 359h3M272 359h4M206 360h1M218 360h4M223 360h1M225 360h7M233 360h1M236 360h5M242 360h2M245 360h4M250 360h4M260 360h3M264 360h2M268 360h1M270 360h2M221 361h2M224 361h5M230 361h2M234 361h3M239 361h1M241 361h1M244 361h4M249 361h3M254 361h2M257 361h1M259 361h1M261 361h3M265 361h5M271 361h1M273 361h1M207 362h1M210 362h1M221 362h1M223 362h1M225 362h1M227 362h1M231 362h3M237 362h1M241 362h5M247 362h3M252 362h1M254 362h11M266 362h2M269 362h5M275 362h1M218 363h1M222 363h1M225 363h2M229 363h1M231 363h1M233 363h3M238 363h1M241 363h1M243 363h10M254 363h7M262 363h2M265 363h6M272 363h1M279 363h1M219 364h1M221 364h1M223 364h1M225 364h1M228 364h1M230 364h5M236 364h1M238 364h3M244 364h4M249 364h1M251 364h2M255 364h1M257 364h4M262 364h2M265 364h1M268 364h1M271 364h2M274 364h2M215 365h1M217 365h2M222 365h2M226 365h1M228 365h2M231 365h3M235 365h1M238 365h1M240 365h2M244 365h1M246 365h1M248 365h5M254 365h1M256 365h1M258 365h2M261 365h3M266 365h1M268 365h3M272 365h1M219 366h2M224 366h1M227 366h1M229 366h1M233 366h1M235 366h1M238 366h10M249 366h2M252 366h4M257 366h1M259 366h1M261 366h1M263 366h6M276 366h1M228 367h6M235 367h1M237 367h6M245 367h2M249 367h6M256 367h1M258 367h5M264 367h2M267 367h6M274 367h1M277 367h1M224 368h1M226 368h1M228 368h1M232 368h3M236 368h1M238 368h6M245 368h3M249 368h2M252 368h1M254 368h1M256 368h1M258 368h3M263 368h7M272 368h1M277 368h1M217 369h1M231 369h2M234 369h2M238 369h1M242 369h1M244 369h5M252 369h2M255 369h1M257 369h5M264 369h3M268 369h3M273 369h2M276 369h1M223 370h1M228 370h3M232 370h2M237 370h1M239 370h1M241 370h3M246 370h1M248 370h3M252 370h1M254 370h7M262 370h2M265 370h1M267 370h1M269 370h7M224 371h1M226 371h2M230 371h2M234 371h3M239 371h4M245 371h2M248 371h3M252 371h2M256 371h5M262 371h10M274 371h1M219 372h1M226 372h1M228 372h1M232 372h1M234 372h1M236 372h2M239 372h3M243 372h6M251 372h11M263 372h7M271 372h1M273 372h2M214 373h1M234 373h2M237 373h6M244 373h4M250 373h2M253 373h5M260 373h1M262 373h2M266 373h1M269 373h4M274 373h2M227 374h1M230 374h3M234 374h1M239 374h5M246 374h6M253 374h1M256 374h2M259 374h2M262 374h1M265 374h4M271 374h4M279 374h1M215 375h1M217 375h1M231 375h1M233 375h4M238 375h1M240 375h1M242 375h4M248 375h1M250 375h8M259 375h14M277 375h1M231 376h1M235 376h1M239 376h1M241 376h1M244 376h2M248 376h8M259 376h3M263 376h4M268 376h5M277 376h1M230 377h1M236 377h1M239 377h1M242 377h3M246 377h3M250 377h2M253 377h2M256 377h3M260 377h2M264 377h1M266 377h5M274 377h2M220 378h1M226 378h1M233 378h1M240 378h1M242 378h3M246 378h1M250 378h8M259 378h1M261 378h8M270 378h5M277 378h1M222 379h4M230 379h1M238 379h1M243 379h1M245 379h2M250 379h3M254 379h1M257 379h12M270 379h1M274 379h2M277 379h1M239 380h1M243 380h4M248 380h4M253 380h1M256 380h2M259 380h1M261 380h11M274 380h1M277 380h1M242 381h4M249 381h4M257 381h4M262 381h1M264 381h1M266 381h6M273 381h1M275 381h1M229 382h1M239 382h1M241 382h2M244 382h1M248 382h1M250 382h2M253 382h2M256 382h1M259 382h4M266 382h8M275 382h1M240 383h1M242 383h3M246 383h4M251 383h1M254 383h2M257 383h2M260 383h3M264 383h1M266 383h2M269 383h3M273 383h3M237 384h1M241 384h1M246 384h1M249 384h1M251 384h1M253 384h1M258 384h6M265 384h2M268 384h1M270 384h3M238 385h1M240 385h2M244 385h1M247 385h5M253 385h3M257 385h6M269 385h5M275 385h1M277 385h1M230 386h1M239 386h1M241 386h1M243 386h1M247 386h4M252 386h2M255 386h1M258 386h3M262 386h2M268 386h1M271 386h1M273 386h1M239 387h1M245 387h1M247 387h4M252 387h1M255 387h2M259 387h3M265 387h4M270 387h2M274 387h1M245 388h2M250 388h3M254 388h1M258 388h1M260 388h4M265 388h4M270 388h2M277 388h1M230 389h1M243 389h1M246 389h1M249 389h5M256 389h1M259 389h4M265 389h5M271 389h1M273 389h1M275 389h2M240 390h1M246 390h1M251 390h1M256 390h4M261 390h1M265 390h1M267 390h7M275 390h1M246 391h1M248 391h2M253 391h3M258 391h3M262 391h6M270 391h2M273 391h1M275 391h1M278 391h1M242 392h1M252 392h1M255 392h1M259 392h2M264 392h4M270 392h1M272 392h2M275 392h1M247 393h1M249 393h2M252 393h3M257 393h3M263 393h1M269 393h5M248 394h1M252 394h1M255 394h10M266 394h5M274 394h1M253 395h1M255 395h5M261 395h3M266 395h5M273 395h2M250 396h1M252 396h2M255 396h2M259 396h3M265 396h1M267 396h1M269 396h5M246 397h1M253 397h2M256 397h2M260 397h4M265 397h2M268 397h4M273 397h1M275 397h1M231 398h1M249 398h2M254 398h2M258 398h1M261 398h2M265 398h10M250 399h1M262 399h1M265 399h8M255 400h1M259 400h3M263 400h2M266 400h1M268 400h4M273 400h1M275 400h1M277 400h1M252 401h1M256 401h1M259 401h1M261 401h1M263 401h1M265 401h6M272 401h2M233 402h1M242 402h1M251 402h1M257 402h5M263 402h1M268 402h2M271 402h1M273 402h1M276 402h1M253 403h1M260 403h2M263 403h4M268 403h5M274 403h1M253 404h1M259 404h2M263 404h2M268 404h1M270 404h2M273 404h1M250 405h1M253 405h1M256 405h1M263 405h1M266 405h3M270 405h2M274 405h2M246 406h1M262 406h2M265 406h1M268 406h1M271 406h4M245 407h1M257 407h2M263 407h1M265 407h8M276 407h2M258 408h1M260 408h1M262 408h2M269 408h8M251 409h1M256 409h1M266 409h1M268 409h1M270 409h1M273 409h2M278 409h1M257 410h1M259 410h1M266 410h1M270 410h4M266 411h1M268 411h6M260 412h1M266 412h1M268 412h1M272 412h4M260 413h1M276 413h1M280 413h1M260 414h1M268 414h2M271 414h2M272 415h1M274 415h2M260 416h1M265 416h1M270 416h1M274 416h1M266 417h1M272 417h1M274 417h3M254 418h1M259 418h1M269 418h1M271 418h2M270 420h1M272 420h1M266 421h1M273 421h2M279 422h1M264 423h1M273 423h1M272 424h1M273 426h1M253 427h1M268 432h1M276 432h1M274 449h1M207 618h1M232 619h1M226 626h1M230 627h1M228 629h1M226 630h1M212 632h1M221 632h1M231 632h1M233 632h1M232 633h1M216 634h1M226 634h1M250 634h1M251 635h1M268 636h1M230 637h1M230 638h1M268 638h1M219 639h1M232 639h1M269 639h1M250 643h1M252 643h1M227 644h1M241 645h1M245 645h1M256 647h1M259 647h1M258 650h1M264 652h1M266 657h1M271 658h1M268 661h1M264 662h1"/>
<path stroke="#ffffff" d="M140 129h1M143 131h1M180 131h1M161 139h1M174 144h1M196 145h1M153 146h1M161 146h1M214 147h1M207 149h1M168 154h1M194 155h1M198 156h1M152 162h1M162 164h1M206 165h1M152 167h1M129 170h1M187 172h1M144 173h1M182 173h1M191 183h1M165 184h1M189 185h1M153 189h1M155 189h1M126 190h1M144 190h1M182 190h1M141 191h1M165 193h1M141 194h1M193 195h1M154 197h1M142 198h1M157 200h1M211 201h1M184 203h1M136 204h1M152 204h1M147 205h1M158 206h1M190 206h1M186 207h1M136 209h1M175 209h1M154 213h1M162 213h1M140 214h1M141 215h1M176 215h1M150 216h1M139 218h1M141 218h3M156 218h1M215 218h1M156 220h1M194 220h1M156 221h1M173 221h1M143 222h1M151 222h1M142 223h2M126 224h1M143 225h1M154 225h1M193 225h1M132 226h1M142 226h1M201 226h1M146 227h1M166 227h1M170 227h1M186 227h1M137 228h1M145 228h1M206 228h1M147 229h1M169 229h1M132 230h1M140 230h1M144 230h1M134 232h2M144 232h1M152 232h1M159 232h1M200 232h1M141 233h1M145 233h1M188 233h1M132 234h1M147 234h1M212 234h1M137 235h1M140 236h2M144 236h1M149 236h1M141 237h1M143 237h1M172 237h1M206 237h1M135 238h2M142 238h3M134 239h1M138 239h1M141 239h1M156 239h1M163 239h1M138 240h2M147 240h1M155 240h1M209 240h1M211 240h1M142 241h1M147 241h1M150 241h1M204 241h1M216 241h1M135 242h1M139 242h1M141 242h1M145 242h1M173 242h1M129 243h1M141 243h1M144 243h2M148 243h2M153 243h1M178 243h1M186 243h1M147 244h1M149 244h1M153 244h1M198 244h1M135 245h1M142 245h1M202 245h1M129 246h1M132 246h1M144 246h1M147 246h1M149 246h2M156 246h1M126 247h1M136 247h1M147 247h2M154 247h1M158 247h1M212 247h1M133 248h1M141 248h1M143 248h1M154 248h1M156 248h1M160 248h1M142 249h1M145 249h2M150 249h1M154 249h1M158 249h1M212 249h1M129 250h1M143 250h2M148 250h3M155 250h1M157 250h1M159 250h1M170 250h1M201 250h1M208 250h1M135 251h1M139 251h1M144 251h1M147 251h1M149 251h4M155 251h1M157 251h1M187 251h1M211 251h1M136 252h1M138 252h1M140 252h1M146 252h1M149 252h1M153 252h1M155 252h1M166 252h1M129 253h1M134 253h1M141 253h2M147 253h1M149 253h1M152 253h1M159 253h1M177 253h1M189 253h1M202 253h1M125 254h1M139 254h1M144 254h6M151 254h1M155 254h1M165 254h1M207 254h1M218 254h1M141 255h1M144 255h1M147 255h1M151 255h1M158 255h2M164 255h1M172 255h1M188 255h1M208 255h1M130 256h1M140 256h1M142 256h1M146 256h1M148 256h4M155 256h1M158 256h1M162 256h1M203 256h1M206 256h1M137 257h3M147 257h1M151 257h3M155 257h1M158 257h4M167 257h1M217 257h1M140 258h1M142 258h1M145 258h1M148 258h1M150 258h1M152 258h1M155 258h1M157 258h2M163 258h1M178 258h1M230 258h1M131 259h1M138 259h1M142 259h2M145 259h1M147 259h1M150 259h1M153 259h1M155 259h1M159 259h1M165 259h2M169 259h1M172 259h1M175 259h1M184 259h1M192 259h1M212 259h1M128 260h1M138 260h1M143 260h4M149 260h1M152 260h2M156 260h2M162 260h1M165 260h1M167 260h1M201 260h1M139 261h1M141 261h1M143 261h2M146 261h1M148 261h2M155 261h1M205 261h1M212 261h1M141 262h1M143 262h2M147 262h1M151 262h2M154 262h1M159 262h4M166 262h1M173 262h1M176 262h1M134 263h1M139 263h1M145 263h3M149 263h1M151 263h1M154 263h1M158 263h2M163 263h1M166 263h1M199 263h1M137 264h1M142 264h2M149 264h2M152 264h1M154 264h1M156 264h1M161 264h2M169 264h1M205 264h1M138 265h1M143 265h2M147 265h1M149 265h3M159 265h2M162 265h2M175 265h1M139 266h2M142 266h1M145 266h4M150 266h1M152 266h2M155 266h2M159 266h1M163 266h2M199 266h1M138 267h2M142 267h3M151 267h1M153 267h1M158 267h2M197 267h1M202 267h1M133 268h1M135 268h1M140 268h3M145 268h1M147 268h1M152 268h1M154 268h1M157 268h2M160 268h1M163 268h1M165 268h2M172 268h1M192 268h1M196 268h2M140 269h1M145 269h2M148 269h4M154 269h1M157 269h1M161 269h1M163 269h1M167 269h2M170 269h1M173 269h2M217 269h2M134 270h1M140 270h2M143 270h1M145 270h10M156 270h1M159 270h1M161 270h1M164 270h1M166 270h1M176 270h1M195 270h1M201 270h1M135 271h1M142 271h12M158 271h3M166 271h1M137 272h1M140 272h3M144 272h2M147 272h3M152 272h1M156 272h1M159 272h1M162 272h1M165 272h1M169 272h1M184 272h1M192 272h1M130 273h1M137 273h4M143 273h1M145 273h2M149 273h2M152 273h1M154 273h5M160 273h1M162 273h3M166 273h1M175 273h1M136 274h1M142 274h1M144 274h1M147 274h4M152 274h3M156 274h1M159 274h2M162 274h1M165 274h2M171 274h1M174 274h1M185 274h1M187 274h1M193 274h1M203 274h1M133 275h1M136 275h2M145 275h4M151 275h6M158 275h1M161 275h2M164 275h2M168 275h1M172 275h1M190 275h1M197 275h1M134 276h1M140 276h1M142 276h1M148 276h1M151 276h6M166 276h1M171 276h1M177 276h1M181 276h1M185 276h1M137 277h1M142 277h3M146 277h2M150 277h1M152 277h1M154 277h4M165 277h1M180 277h1M183 277h1M186 277h1M142 278h1M144 278h2M147 278h1M150 278h7M158 278h1M161 278h1M163 278h2M166 278h1M168 278h1M174 278h1M177 278h2M180 278h1M182 278h1M185 278h1M190 278h1M139 279h3M144 279h1M147 279h1M150 279h3M154 279h1M156 279h2M159 279h3M163 279h1M167 279h2M171 279h3M176 279h1M178 279h2M183 279h1M139 280h1M141 280h6M148 280h1M150 280h1M152 280h1M154 280h1M157 280h2M161 280h2M164 280h5M173 280h1M175 280h2M179 280h2M190 280h1M137 281h1M140 281h1M144 281h1M146 281h2M154 281h4M163 281h3M171 281h2M174 281h7M218 281h1M127 282h1M141 282h3M145 282h2M148 282h3M154 282h1M156 282h2M159 282h1M164 282h5M170 282h1M172 282h6M179 282h1M181 282h1M200 282h1M214 282h1M139 283h1M142 283h1M144 283h1M146 283h2M151 283h1M157 283h1M159 283h1M161 283h1M164 283h1M170 283h6M177 283h1M197 283h2M141 284h5M148 284h3M152 284h6M159 284h3M163 284h1M165 284h2M170 284h8M185 284h1M196 284h1M139 285h1M145 285h9M155 285h1M157 285h1M159 285h5M168 285h2M171 285h3M180 285h1M187 285h1M189 285h1M197 285h1M218 285h1M133 286h1M138 286h1M143 286h1M149 286h1M151 286h3M155 286h2M158 286h3M162 286h1M164 286h2M167 286h1M170 286h5M177 286h1M181 286h2M184 286h1M187 286h1M198 286h1M225 286h1M133 287h1M135 287h1M138 287h1M142 287h4M147 287h2M150 287h3M155 287h1M157 287h4M164 287h1M167 287h1M169 287h2M172 287h1M174 287h1M179 287h1M190 287h1M139 288h1M144 288h1M146 288h1M150 288h2M153 288h2M158 288h2M161 288h1M164 288h10M175 288h6M187 288h1M191 288h1M139 289h3M144 289h2M147 289h1M151 289h2M154 289h4M159 289h2M162 289h1M164 289h7M172 289h4M177 289h1M179 289h2M182 289h1M185 289h1M134 290h1M136 290h1M143 290h6M150 290h4M155 290h1M157 290h1M159 290h9M169 290h1M171 290h2M175 290h2M179 290h4M186 290h2M193 290h1M197 290h1M200 290h1M135 291h1M139 291h2M142 291h1M146 291h5M152 291h2M156 291h1M160 291h14M176 291h1M180 291h1M182 291h3M187 291h2M191 291h1M207 291h1M227 291h1M145 292h5M151 292h3M155 292h2M158 292h1M160 292h8M169 292h3M174 292h1M176 292h2M179 292h4M186 292h2M189 292h2M195 292h1M208 292h1M219 292h1M131 293h1M139 293h8M148 293h1M150 293h3M154 293h2M157 293h13M173 293h2M176 293h2M179 293h1M182 293h1M186 293h1M188 293h4M138 294h1M140 294h1M142 294h1M144 294h2M147 294h6M155 294h11M167 294h3M171 294h1M173 294h2M176 294h1M180 294h1M182 294h4M188 294h2M191 294h1M197 294h1M206 294h1M135 295h1M138 295h2M142 295h2M147 295h3M152 295h10M163 295h9M173 295h2M177 295h1M179 295h1M181 295h1M183 295h1M186 295h1M193 295h1M197 295h1M200 295h3M136 296h1M138 296h1M140 296h1M145 296h5M151 296h1M153 296h3M157 296h9M167 296h3M172 296h3M176 296h2M181 296h1M183 296h1M185 296h2M192 296h1M196 296h1M198 296h1M200 296h2M203 296h2M223 296h1M144 297h2M147 297h2M151 297h4M156 297h17M174 297h6M181 297h1M183 297h2M192 297h2M200 297h1M131 298h1M134 298h3M140 298h1M143 298h6M151 298h7M160 298h12M173 298h1M175 298h1M177 298h1M181 298h1M183 298h1M186 298h2M190 298h2M197 298h2M202 298h1M206 298h1M211 298h1M134 299h2M142 299h1M144 299h4M150 299h2M153 299h6M160 299h5M166 299h1M169 299h2M172 299h1M175 299h5M183 299h3M187 299h1M189 299h1M191 299h4M196 299h1M198 299h1M203 299h2M208 299h1M134 300h2M142 300h1M144 300h2M147 300h5M153 300h17M171 300h2M178 300h1M180 300h4M185 300h1M187 300h5M195 300h1M197 300h1M200 300h1M202 300h1M210 300h1M212 300h1M219 300h1M134 301h1M138 301h1M141 301h1M143 301h3M147 301h7M155 301h5M162 301h3M167 301h3M172 301h1M174 301h1M176 301h1M180 301h4M185 301h2M190 301h2M193 301h2M197 301h2M203 301h1M205 301h3M209 301h1M213 301h1M216 301h1M137 302h1M140 302h1M144 302h2M147 302h16M164 302h2M168 302h6M175 302h4M181 302h1M187 302h2M190 302h1M196 302h3M203 302h3M209 302h1M216 302h1M132 303h1M140 303h10M152 303h2M155 303h1M159 303h7M168 303h2M171 303h2M174 303h1M176 303h2M180 303h2M183 303h1M185 303h1M187 303h1M189 303h1M191 303h1M194 303h1M196 303h2M203 303h1M207 303h1M136 304h1M142 304h7M150 304h4M155 304h13M169 304h2M172 304h1M174 304h15M190 304h2M198 304h2M201 304h1M203 304h1M205 304h1M207 304h2M215 304h1M139 305h2M143 305h1M145 305h2M148 305h4M153 305h5M159 305h9M169 305h2M173 305h6M180 305h4M186 305h3M190 305h1M195 305h2M204 305h2M209 305h1M219 305h2M139 306h3M144 306h1M149 306h1M152 306h5M158 306h8M167 306h7M175 306h8M185 306h4M191 306h1M193 306h1M198 306h1M200 306h1M203 306h2M206 306h1M208 306h1M214 306h1M132 307h1M138 307h1M145 307h1M147 307h1M149 307h3M153 307h10M164 307h9M174 307h5M180 307h1M182 307h3M187 307h1M190 307h1M194 307h1M197 307h1M201 307h4M207 307h1M209 307h1M214 307h2M218 307h1M130 308h1M142 308h2M145 308h3M150 308h6M157 308h2M161 308h3M165 308h4M170 308h5M177 308h1M179 308h3M183 308h1M188 308h1M191 308h2M195 308h5M203 308h1M207 308h1M216 308h1M134 309h1M141 309h2M144 309h6M151 309h7M159 309h5M165 309h2M168 309h1M170 309h1M172 309h12M186 309h1M191 309h2M195 309h2M198 309h2M201 309h2M204 309h1M206 309h1M208 309h2M214 309h1M136 310h1M140 310h1M143 310h4M150 310h2M153 310h2M156 310h3M160 310h2M164 310h1M166 310h1M168 310h4M173 310h2M176 310h1M179 310h2M183 310h2M186 310h7M194 310h1M198 310h3M203 310h1M207 310h1M213 310h1M137 311h1M140 311h1M143 311h2M146 311h1M148 311h3M152 311h3M156 311h4M161 311h2M164 311h2M167 311h8M176 311h7M185 311h1M189 311h2M192 311h3M196 311h2M199 311h3M205 311h1M207 311h1M210 311h1M212 311h1M214 311h2M138 312h1M140 312h2M146 312h1M149 312h1M152 312h3M156 312h5M162 312h8M171 312h6M179 312h4M185 312h5M193 312h7M201 312h4M212 312h1M144 313h1M147 313h11M160 313h5M166 313h9M176 313h2M179 313h2M183 313h2M186 313h1M188 313h1M191 313h1M193 313h2M197 313h1M201 313h2M207 313h1M211 313h1M214 313h2M131 314h1M140 314h1M143 314h1M146 314h1M148 314h3M154 314h1M156 314h2M160 314h3M164 314h2M168 314h13M184 314h4M189 314h2M193 314h2M197 314h3M201 314h3M205 314h1M208 314h1M140 315h1M144 315h2M147 315h1M150 315h2M153 315h24M178 315h2M181 315h9M191 315h2M194 315h1M197 315h3M201 315h5M210 315h4M218 315h1M143 316h1M147 316h5M153 316h1M155 316h1M157 316h9M167 316h1M169 316h7M177 316h2M180 316h1M182 316h6M189 316h4M194 316h2M200 316h2M203 316h1M206 316h2M209 316h1M212 316h1M139 317h1M141 317h1M143 317h1M145 317h1M147 317h1M149 317h4M154 317h8M163 317h2M167 317h4M172 317h10M183 317h2M186 317h2M189 317h2M192 317h11M204 317h5M210 317h2M217 317h1M132 318h1M145 318h1M148 318h1M151 318h1M153 318h3M157 318h7M166 318h5M172 318h2M175 318h1M177 318h2M180 318h7M188 318h1M190 318h1M192 318h1M199 318h5M205 318h1M207 318h2M215 318h1M136 319h1M147 319h1M149 319h4M154 319h4M159 319h4M165 319h5M171 319h10M182 319h1M184 319h4M190 319h2M195 319h2M198 319h1M201 319h1M203 319h1M205 319h2M209 319h1M217 319h2M220 319h1M230 319h1M137 320h1M146 320h7M154 320h3M158 320h4M163 320h1M165 320h10M176 320h1M179 320h1M182 320h2M185 320h2M188 320h13M203 320h1M205 320h1M210 320h1M214 320h1M218 320h1M140 321h1M142 321h1M146 321h1M149 321h1M151 321h1M153 321h5M159 321h8M168 321h8M178 321h7M186 321h1M188 321h2M191 321h2M194 321h4M199 321h2M203 321h1M208 321h2M212 321h1M214 321h1M219 321h1M137 322h1M142 322h1M146 322h6M156 322h8M166 322h4M171 322h1M173 322h2M176 322h2M179 322h5M185 322h6M192 322h1M197 322h6M205 322h2M208 322h1M211 322h1M146 323h2M150 323h2M156 323h12M169 323h4M175 323h5M181 323h3M187 323h1M189 323h3M193 323h2M196 323h1M199 323h3M203 323h1M205 323h1M207 323h3M212 323h1M214 323h1M142 324h1M146 324h1M148 324h2M154 324h1M156 324h1M158 324h2M161 324h2M164 324h1M166 324h1M168 324h7M176 324h4M181 324h3M185 324h4M190 324h4M195 324h2M198 324h1M200 324h6M207 324h2M210 324h1M214 324h1M148 325h3M152 325h2M155 325h3M162 325h9M175 325h1M177 325h4M182 325h1M185 325h3M189 325h4M194 325h4M199 325h2M203 325h2M208 325h1M210 325h2M213 325h1M138 326h1M142 326h1M144 326h1M148 326h1M150 326h1M152 326h1M155 326h11M167 326h4M175 326h3M179 326h4M184 326h2M187 326h4M192 326h1M194 326h7M203 326h3M207 326h1M209 326h4M214 326h1M145 327h1M149 327h1M154 327h3M159 327h3M164 327h8M178 327h1M180 327h1M183 327h3M187 327h4M192 327h5M198 327h4M203 327h3M208 327h1M210 327h2M214 327h1M216 327h1M139 328h1M146 328h1M151 328h1M153 328h1M157 328h1M159 328h1M161 328h1M164 328h1M166 328h2M169 328h6M176 328h7M184 328h3M188 328h2M191 328h2M196 328h2M200 328h3M204 328h2M208 328h1M210 328h3M227 328h1M146 329h1M148 329h1M154 329h5M161 329h1M163 329h3M169 329h1M171 329h5M178 329h3M182 329h2M185 329h3M189 329h2M192 329h2M196 329h6M204 329h4M209 329h3M214 329h1M216 329h1M221 329h1M145 330h1M149 330h2M156 330h1M159 330h3M164 330h8M175 330h1M177 330h7M185 330h3M189 330h7M197 330h8M206 330h1M209 330h3M215 330h1M158 331h1M160 331h1M162 331h2M166 331h2M170 331h1M176 331h1M179 331h3M184 331h12M197 331h4M202 331h5M208 331h3M212 331h1M215 331h1M218 331h1M146 332h1M152 332h1M154 332h1M157 332h1M159 332h1M163 332h3M167 332h1M169 332h1M173 332h1M175 332h1M178 332h1M180 332h8M189 332h2M193 332h1M195 332h7M203 332h3M210 332h1M220 332h1M155 333h1M161 333h1M163 333h1M165 333h1M168 333h1M170 333h2M173 333h2M177 333h3M182 333h1M184 333h3M188 333h1M190 333h2M193 333h9M203 333h2M206 333h1M209 333h1M211 333h1M213 333h1M215 333h1M157 334h1M163 334h1M167 334h2M170 334h1M172 334h1M174 334h6M181 334h3M186 334h1M189 334h3M193 334h4M198 334h4M205 334h1M207 334h2M210 334h1M212 334h1M215 334h1M156 335h1M166 335h1M169 335h2M173 335h3M177 335h2M181 335h1M183 335h1M185 335h1M187 335h1M189 335h3M196 335h4M202 335h2M205 335h1M207 335h2M211 335h2M214 335h1M157 336h2M162 336h4M168 336h1M173 336h1M175 336h3M179 336h1M181 336h2M184 336h2M189 336h2M192 336h2M195 336h2M198 336h3M203 336h1M205 336h2M208 336h1M215 336h1M151 337h1M159 337h1M163 337h1M165 337h3M173 337h1M176 337h1M178 337h2M181 337h1M184 337h1M187 337h1M189 337h4M194 337h13M208 337h1M212 337h1M216 337h1M221 337h1M159 338h1M164 338h1M167 338h2M170 338h2M175 338h1M178 338h1M181 338h7M189 338h1M191 338h1M193 338h3M197 338h3M201 338h3M205 338h1M209 338h1M212 338h1M161 339h2M165 339h2M169 339h1M173 339h5M179 339h1M181 339h2M184 339h2M188 339h2M191 339h4M196 339h1M198 339h2M201 339h8M211 339h2M218 339h1M222 339h1M164 340h1M166 340h1M169 340h2M175 340h1M182 340h4M188 340h3M192 340h2M195 340h4M202 340h4M209 340h2M216 340h1M148 341h1M155 341h1M160 341h1M164 341h1M169 341h1M171 341h1M175 341h1M177 341h1M180 341h1M182 341h1M184 341h1M190 341h1M192 341h1M194 341h3M199 341h2M202 341h4M207 341h2M211 341h2M157 342h1M171 342h1M179 342h2M184 342h1M186 342h3M190 342h1M194 342h2M197 342h2M200 342h2M203 342h3M207 342h1M214 342h1M221 342h1M171 343h1M174 343h1M176 343h1M178 343h1M181 343h1M184 343h1M186 343h2M189 343h1M192 343h1M194 343h1M197 343h9M208 343h2M211 343h1M214 343h1M225 343h1M160 344h1M162 344h1M170 344h1M174 344h1M176 344h1M179 344h1M182 344h1M185 344h4M190 344h2M193 344h6M200 344h3M204 344h1M206 344h3M215 344h1M171 345h1M173 345h1M178 345h1M180 345h1M184 345h1M190 345h2M194 345h1M197 345h1M200 345h3M206 345h2M214 345h1M154 346h1M170 346h1M173 346h1M175 346h1M179 346h9M190 346h1M192 346h1M197 346h1M199 346h1M202 346h1M204 346h1M207 346h1M212 346h1M228 346h1M183 347h2M190 347h1M193 347h2M198 347h1M200 347h2M203 347h2M207 347h1M209 347h1M212 347h2M216 347h1M151 348h1M178 348h1M187 348h1M189 348h3M194 348h3M205 348h2M208 348h1M180 349h1M183 349h1M185 349h1M191 349h1M195 349h2M200 349h2M205 349h2M209 349h3M213 349h1M173 350h1M177 350h1M185 350h1M197 350h1M200 350h3M204 350h1M206 350h2M209 350h1M211 350h1M173 351h1M191 351h1M197 351h1M204 351h2M207 351h1M209 351h1M213 351h1M216 351h1M220 351h1M178 352h1M183 352h1M191 352h1M196 352h1M199 352h2M203 352h1M207 352h2M211 352h1M213 352h1M220 352h2M187 353h2M193 353h4M199 353h1M202 353h2M205 353h1M209 353h4M216 353h1M184 354h1M199 354h2M210 354h1M215 354h1M182 355h1M195 355h1M202 355h2M206 355h1M209 355h1M189 356h1M192 356h1M194 356h1M199 356h1M202 356h3M206 356h1M200 357h1M205 357h1M209 357h2M215 357h1M203 358h1M205 358h2M212 358h1M217 358h2M220 358h1M207 359h1M210 359h2M181 360h1M211 360h1M217 360h1M198 361h1M204 361h1M209 361h2M190 362h1M205 362h1M213 362h2M210 363h1M216 363h1M227 365h1M202 366h1M209 366h1M210 367h1M213 369h1M223 371h1M226 374h1M207 375h1M223 375h1M204 376h1M191 391h1M153 563h1M154 570h1M142 572h1M166 577h1M156 584h1M147 585h1M180 587h1M155 588h1M166 588h1M163 589h2M164 590h1M173 590h1M181 591h1M170 592h2M160 593h1M157 595h1M165 598h1M176 599h1M159 600h1M154 601h1M179 601h1M193 602h1M162 603h1M169 603h1M195 603h1M158 605h1M184 605h1M192 605h1M197 605h1M161 607h1M165 607h1M193 608h1M161 610h1M179 610h1M207 611h1M169 612h1M186 612h1M197 612h1M201 612h1M198 613h1M189 614h1M199 614h1M202 614h1M194 615h1M214 619h1M192 621h1M219 623h1M213 624h1M182 626h1M197 627h1M206 627h1M210 627h1M208 628h1M187 630h1M211 633h1M202 641h1M212 644h1"/>
<path stroke="#40e0e0" d="M96 172h1M102 187h1M90 193h1M103 197h1M103 213h1M90 215h1M105 215h1M110 215h1M97 218h1M111 218h1M107 220h1M94 222h1M99 223h1M113 228h1M102 231h1M96 232h1M110 235h1M110 240h1M113 242h1M110 244h1M108 262h1M96 267h1M101 269h1M111 274h1"/>
<path stroke="#e0ffff" d="M136 214h1M135 235h1M130 239h1M137 239h1M132 241h1M131 244h1M134 245h1M129 247h1M128 248h1M137 248h2M142 248h1M145 248h1M130 250h1M127 251h2M133 251h1M138 251h1M146 251h1M125 252h1M129 252h1M137 252h1M142 252h1M144 253h1M132 254h1M140 254h1M135 256h2M130 257h1M136 257h1M139 258h1M135 259h1M137 259h1M142 260h1M147 260h1M127 261h1M136 263h1M140 263h1M142 263h1M132 264h1M136 264h1M136 265h1M142 265h1M144 266h1M132 267h1M135 267h1M141 267h1M130 268h1M132 268h1M134 268h1M138 268h1M143 268h1M151 268h1M137 269h1M139 269h1M142 269h3M139 270h1M144 270h1M133 271h2M136 271h1M127 272h1M131 272h1M134 272h1M136 272h1M136 273h1M141 273h1M138 274h1M140 274h1M146 274h1M138 275h1M141 275h2M137 276h1M139 276h1M135 277h1M129 278h1M140 278h2M146 278h1M133 279h2M146 279h1M148 279h1M129 280h1M133 280h2M132 281h5M138 281h1M143 281h1M145 281h1M148 281h1M132 282h3M136 282h3M144 282h1M127 283h1M132 283h1M135 283h4M140 283h2M135 284h1M138 284h1M132 285h1M137 285h1M130 286h3M137 286h1M134 287h1M136 287h1M141 287h1M133 288h1M145 288h1M127 289h1M134 289h1M138 289h1M142 289h1M138 290h1M140 290h1M129 291h1M134 291h1M136 291h2M144 291h2M138 292h1M126 293h1M132 293h2M134 294h1M146 294h1M137 295h1M140 295h2M145 295h1M134 296h1M137 296h1M143 296h1M150 296h1M138 298h1M139 299h2M139 301h1M142 301h1M139 302h1M142 302h1M137 303h1M131 304h1M137 306h1M142 306h2M146 306h2M150 306h1M141 307h1M152 307h1M148 308h2M139 310h1M142 310h1M147 310h1M142 312h2M151 312h1M139 314h1M146 316h1M140 319h1M153 319h1M143 321h1"/>
<path stroke="#ff4000" d="M480 224h1M500 228h1M496 231h1M505 234h1M496 237h1M498 237h1M475 239h1M506 240h1M490 241h1M475 242h1M482 243h1M497 243h1M469 246h1M504 251h1M501 252h1M485 255h1M490 255h1M503 256h1M483 259h1M489 259h1M464 260h1M470 262h1M477 263h1M482 264h1M489 264h1M496 265h1M467 266h1M481 266h1M487 267h1M446 269h1M454 269h1M479 269h1M487 272h1M477 273h1M466 274h1M493 274h1M459 275h1M504 276h1M453 277h1M465 277h1M468 277h1M497 277h1M457 279h1M462 280h1M486 284h1M454 290h1M460 300h1M438 488h1M454 502h1M460 513h1M459 515h1M468 515h1M464 518h1M481 518h1M477 522h1M474 523h1M483 523h1M462 524h1M476 524h1M474 525h1M466 527h2M474 528h1M483 528h1M472 529h1M475 529h1M470 530h1M478 530h1M475 532h2M473 533h1M481 534h1M475 544h1M479 545h1M477 547h1M482 548h1M483 549h1M489 549h1M479 550h1M478 551h1M481 552h1M484 553h1M488 553h2M478 554h1M474 556h1M482 557h1M487 558h1M485 560h1M490 561h1M489 562h1M488 566h1M481 568h1M502 568h1M492 570h1M492 573h1M483 575h1M490 575h2M493 575h1M488 576h1M481 577h1M484 577h1M485 578h1M482 579h1M496 580h1M498 583h1M497 584h1M490 591h1M495 591h1M498 591h1M503 594h1M506 598h1M508 599h1M505 603h1M511 604h1"/>
<path stroke="#ff2000" d="M480 249h1M496 261h1M480 268h1M474 287h1M448 494h1M470 531h1M490 574h1"/>
<path stroke="#ff6000" d="M463 252h1M491 255h1M469 257h1M483 261h1M457 270h1M466 276h1M448 278h1M444 491h1M477 521h1M473 531h1M472 540h1M474 544h1M488 557h2M488 558h1M494 576h1"/>
<path stroke="#ffc000" d="M393 263h1M359 267h1M383 267h1M379 268h1M367 273h1M375 273h1M389 273h1M395 276h2M368 282h1M363 283h1M359 284h1M402 284h1M368 285h1M377 285h1M370 286h1M379 286h1M393 286h1M381 287h1M376 288h1M401 288h1M411 288h1M380 289h1M368 290h1M371 290h1M380 290h1M383 290h1M376 292h2M392 293h1M396 293h1M405 293h1M408 293h1M352 294h1M365 294h1M369 294h2M393 294h1M402 296h1M401 297h1M352 300h1M392 302h1M400 304h1M412 304h1M353 305h1M391 305h1M414 306h1M391 307h1M413 307h1M355 310h1M386 310h1M392 312h1M390 313h1M383 314h1M388 315h1M393 315h1M404 315h1M397 316h1M363 318h1M370 318h1M391 319h1M405 319h1M359 320h1M362 320h1M371 320h1M373 321h1M382 321h1M381 322h1M387 322h1M375 323h1M383 323h1M388 323h1M369 324h1M358 325h1M379 325h1M370 326h1M382 326h1M356 327h1M375 327h1M391 327h1M397 327h1M357 328h1M366 328h1M381 328h2M361 329h1M396 329h1M390 330h1M385 331h1M370 333h1M379 333h1M371 334h1M365 335h1M386 335h1M364 337h1M382 337h1M379 338h1M378 348h1M345 421h1M340 429h1M344 431h1M355 431h1M349 433h1M358 433h1M350 434h1M346 439h1M353 439h2M348 441h1M361 441h1M355 444h1M354 445h1M356 445h1M361 445h1M364 445h1M368 445h1M360 446h1M363 446h1M356 448h1M359 448h1M356 449h1M374 449h1M335 450h1M342 450h1M359 450h1M366 450h1M348 451h1M362 451h1M343 452h1M347 452h1M358 452h1M371 452h1M350 453h1M358 453h2M366 453h1M344 454h1M351 454h1M362 454h1M351 455h1M357 456h2M349 457h1M372 457h2M385 458h1M358 459h1M363 459h1M359 461h1M369 461h1M373 462h1M390 471h1"/>
<path stroke="#ffe000" d="M381 270h1M383 287h1M386 289h1M363 290h1M393 310h1M355 312h1M352 316h1M361 318h1M360 319h1M364 319h1M368 321h1M364 322h1M369 326h1M373 328h1M364 331h1M356 342h1M332 430h1M336 430h1M349 434h1M346 436h1M350 438h1M348 439h1M355 443h1M325 444h1M330 447h1M356 447h1M357 448h1M370 451h1M347 453h2M349 455h1M352 456h1"/>
<path stroke="#80e0e0" d="M110 274h1"/>
<path stroke="#ffa000" d="M377 278h1M372 283h1M384 285h1M386 286h1M398 286h1M371 287h1M382 287h1M397 290h1M378 291h1M393 292h1M409 292h1M398 293h1M365 295h1M395 295h1M389 296h1M391 296h1M360 297h1M393 298h1M398 298h1M394 299h1M394 300h1M409 300h1M355 301h1M391 302h1M394 302h1M392 303h1M400 303h1M389 304h1M397 304h2M401 306h1M386 309h1M386 311h1M398 313h1M383 315h1M382 319h1M387 320h1M396 320h1M376 321h3M389 321h1M381 323h1M353 440h1M366 442h1M354 443h1M360 447h1M357 450h1M366 452h1M357 454h1M359 454h1M374 455h1M361 458h1M374 458h1M383 467h1"/>
<path stroke="#ffffe0" d="M211 281h1M206 305h1M225 305h1M217 306h1M220 307h1M208 311h1M200 312h1M206 312h1M218 312h1M204 313h1M216 314h1M217 315h1M214 316h1M204 318h1M207 319h1M211 320h1M201 321h1M207 321h1M226 321h1M215 322h2M224 322h1M211 323h1M216 323h1M218 323h1M224 323h1M206 325h1M215 325h1M225 325h1M206 327h1M220 327h1M226 327h1M217 328h1M225 328h1M212 329h1M218 329h2M208 330h1M212 330h2M216 330h1M213 331h1M214 333h1M202 334h1M204 334h1M217 334h1M216 335h1M218 335h1M222 335h1M202 336h1M212 336h1M209 337h1M231 337h1M214 338h1M217 338h1M195 339h1M213 339h1M215 339h1M201 340h1M211 340h2M217 340h1M222 340h1M214 341h2M217 341h1M216 342h1M210 343h1M209 344h1M209 345h3M213 345h1M218 345h3M215 347h1M225 347h1M227 347h1M211 348h1M223 348h1M208 349h1M223 350h1M208 351h1M210 351h1M209 352h1M227 352h1M201 353h1M212 355h1M218 355h1M224 362h1M274 384h1"/>
<path stroke="#ffff20" d="M371 289h1M381 289h1M367 290h1M372 291h1M382 291h1M384 291h1M363 292h2M367 292h1M369 292h1M372 292h1M362 293h1M364 293h1M367 293h1M369 293h1M372 293h1M377 293h1M379 293h1M385 293h1M360 294h1M363 294h1M366 294h1M368 294h1M379 294h2M384 294h1M387 294h1M391 294h1M359 295h1M362 295h1M364 295h1M366 295h1M368 295h1M370 295h1M382 295h1M359 296h3M363 296h1M365 296h1M370 296h1M363 297h2M366 297h1M388 297h2M360 298h2M363 298h1M365 298h1M356 299h1M358 299h1M363 299h1M366 299h1M359 300h2M392 300h1M399 300h1M354 301h1M357 301h3M393 301h1M359 302h1M354 303h6M395 303h1M354 304h3M358 304h1M354 305h2M353 306h3M389 306h1M353 307h2M385 307h1M353 308h3M387 308h1M354 309h3M356 310h3M360 310h1M383 310h1M357 311h1M383 311h1M385 311h1M356 312h1M358 312h1M360 312h1M356 313h1M360 313h3M386 313h1M359 314h2M382 314h1M357 315h4M363 315h1M357 316h2M360 316h2M363 316h1M365 316h1M359 317h3M366 317h2M370 317h1M362 318h1M364 318h2M368 318h2M372 318h1M377 318h1M373 319h1M375 319h1M377 319h3M381 319h1M374 320h1M379 320h2M375 321h1M379 321h1M377 322h1M379 322h1M379 323h1M280 352h1M269 360h1M278 366h1M278 369h1M278 370h1M275 371h2M278 371h1M276 372h1M278 372h2M273 373h1M276 373h2M275 374h1M275 375h1M278 375h1M276 376h1M278 376h1M277 377h1M273 380h1M278 380h1M277 381h3M277 382h2M280 382h1M278 383h5M269 384h1M275 384h1M278 384h5M279 385h4M275 386h1M282 386h2M273 387h1M279 387h4M275 388h1M279 388h3M272 389h1M279 389h4M276 390h1M278 390h4M274 391h1M276 391h1M279 391h2M282 391h1M277 392h2M280 392h1M282 392h1M277 393h6M284 393h1M286 393h1M288 393h6M271 394h1M278 394h6M285 394h2M288 394h1M290 394h2M275 395h1M278 395h1M281 395h14M279 396h3M283 396h5M289 396h1M291 396h1M293 396h2M277 397h3M281 397h1M288 397h4M293 397h2M277 398h1M279 398h1M281 398h4M289 398h1M291 398h2M294 398h1M275 399h1M277 399h2M280 399h5M289 399h1M292 399h3M279 400h6M288 400h2M291 400h5M277 401h1M284 401h3M289 401h1M293 401h1M295 401h1M278 402h2M283 402h2M286 402h4M292 402h1M294 402h2M276 403h4M281 403h2M284 403h1M287 403h3M295 403h1M297 403h2M277 404h2M280 404h2M283 404h5M289 404h2M296 404h3M280 405h2M283 405h3M288 405h3M292 405h2M296 405h5M279 406h1M281 406h4M286 406h5M292 406h2M295 406h1M297 406h2M300 406h2M274 407h1M278 407h1M280 407h3M284 407h1M286 407h2M289 407h2M292 407h2M295 407h5M302 407h1M280 408h1M283 408h3M287 408h4M292 408h1M297 408h4M302 408h3M306 408h1M279 409h4M284 409h3M288 409h1M290 409h3M303 409h3M277 410h1M279 410h5M290 410h1M302 410h2M305 410h2M275 411h1M278 411h3M282 411h3M286 411h1M290 411h4M302 411h4M277 412h1M280 412h2M283 412h1M286 412h1M288 412h2M291 412h2M304 412h2M279 413h1M281 413h4M287 413h1M289 413h2M292 413h1M303 413h3M278 414h1M280 414h1M282 414h5M290 414h2M305 414h3M309 414h2M312 414h1M281 415h1M283 415h5M289 415h3M305 415h6M312 415h2M280 416h6M287 416h6M304 416h2M307 416h3M311 416h4M280 417h1M282 417h3M286 417h9M304 417h2M309 417h8M282 418h3M286 418h8M296 418h1M304 418h1M307 418h1M310 418h7M283 419h3M287 419h1M291 419h3M296 419h1M311 419h7M283 420h1M285 420h2M288 420h4M293 420h4M299 420h2M312 420h1M314 420h2M317 420h1M285 421h7M295 421h2M298 421h3M317 421h5M288 422h1M290 422h9M300 422h2M312 422h1M316 422h2M319 422h1M321 422h2M289 423h1M292 423h1M295 423h6M311 423h2M317 423h7M291 424h2M294 424h2M297 424h1M299 424h2M311 424h3M315 424h8M324 424h1M291 425h5M297 425h1M310 425h9M322 425h4M291 426h4M311 426h2M314 426h1M316 426h3M322 426h5M328 426h1M291 427h7M325 427h1M327 427h1M329 427h3M291 428h4M296 428h1M325 428h6M293 429h3M310 429h5M324 429h2M327 429h4M295 430h5M310 430h8M324 430h7M296 431h5M311 431h4M316 431h4M325 431h2M328 431h4M298 432h4M311 432h2M314 432h2M317 432h3M326 432h1M330 432h1M300 433h5M307 433h1M309 433h1M312 433h2M316 433h2M326 433h4M301 434h2M304 434h9M314 434h3M318 434h1M325 434h4M339 434h1M303 435h2M306 435h4M311 435h2M314 435h1M316 435h6M323 435h1M325 435h4M330 435h2M334 435h9M308 436h1M316 436h1M318 436h4M323 436h1M326 436h2M329 436h2M333 436h1M335 436h1M338 436h1M341 436h1M343 436h1M313 437h9M323 437h1M325 437h6M333 437h4M341 437h2M344 437h1M346 437h1M312 438h1M315 438h4M320 438h4M325 438h2M328 438h2M331 438h2M334 438h2M337 438h2M340 438h1M342 438h1M345 438h1M314 439h2M317 439h2M321 439h3M325 439h1M327 439h5M335 439h3M339 439h1M341 439h4M315 440h2M318 440h1M321 440h4M326 440h2M329 440h5M335 440h1M337 440h2M340 440h2M343 440h1M345 440h1M349 440h1M322 441h4M330 441h7M340 441h1M346 441h2M350 441h2M353 441h1M324 442h3M328 442h1M332 442h4M344 442h3M348 442h1M350 442h1M352 442h2M325 443h6M332 443h3M339 443h3M343 443h2M349 443h1M352 443h1M327 444h2M330 444h2M333 444h3M339 444h7M348 444h1M352 444h1M330 445h2M333 445h4M339 445h2M342 445h1M346 445h3M334 446h1M336 446h4M341 446h2M344 446h2M348 446h2M351 446h1M356 446h1M334 447h1M336 447h2M339 447h1M343 447h1M349 447h1M352 447h1M354 447h1M338 448h1M340 448h4M347 448h1M350 448h3M338 449h1M340 449h6M347 449h1M352 449h2M360 449h1M340 450h1M343 450h1M346 450h4M351 450h1M361 450h1M343 451h3M352 451h2M359 451h1M345 452h1M350 452h3M354 452h1M356 452h1M359 452h1M351 453h1M354 453h2M357 453h1M361 453h1M353 454h1M356 455h1M359 455h1"/>
<path stroke="#ffa020" d="M380 291h2M363 293h1M370 293h1M375 293h2M381 293h1M373 294h3M378 294h1M381 294h1M383 294h1M360 295h1M371 295h1M373 295h1M375 295h1M378 295h1M384 295h2M387 295h2M390 295h2M364 296h1M380 296h1M382 296h2M386 296h1M388 296h1M361 297h1M372 297h1M379 297h1M384 297h4M390 297h2M364 298h1M373 298h1M376 298h1M378 298h4M385 298h3M389 298h2M392 298h1M365 299h1M379 299h2M382 299h2M385 299h1M387 299h4M397 299h2M366 300h1M369 300h1M378 300h1M382 300h1M385 300h2M388 300h2M395 300h4M378 301h3M385 301h1M389 301h1M391 301h1M394 301h5M370 302h1M383 302h3M387 302h3M395 302h4M382 303h1M385 303h1M387 303h1M394 303h1M396 303h1M398 303h1M382 304h1M385 304h1M387 304h1M395 304h2M356 305h1M378 305h2M385 305h1M387 305h2M361 306h1M385 306h2M388 306h1M361 307h1M381 307h1M383 307h1M386 307h1M388 307h1M364 308h1M380 308h1M382 308h1M388 308h1M357 309h1M379 309h1M381 309h1M383 309h2M359 310h1M361 310h1M382 310h1M361 311h1M380 311h2M362 312h2M381 312h2M359 313h1M364 313h1M377 313h1M380 313h1M365 314h1M373 314h2M377 314h2M361 315h1M366 315h1M373 315h1M378 315h1M380 315h1M370 316h1M382 316h1M372 317h1M376 317h1M381 317h1M375 318h1M380 318h2M376 319h1M375 320h1M377 320h1M337 436h1M324 437h1M343 438h1M326 439h1M332 439h1M334 440h1M337 443h1M353 443h1M347 444h1M351 444h1M350 445h1M353 448h1M348 449h2M355 449h1M352 450h2M355 450h2M351 451h1M349 452h1M356 453h1M355 454h2"/>
<path stroke="#ffc020" d="M368 292h1M384 292h1M371 293h1M380 293h1M383 293h2M364 294h1M371 294h1M382 294h1M372 295h1M376 295h2M381 295h1M383 295h1M368 296h1M372 296h1M375 296h3M381 296h1M384 296h1M387 296h1M376 297h2M383 297h1M392 297h1M370 298h1M372 298h1M374 298h2M383 298h2M388 298h1M364 299h1M371 299h2M375 299h2M378 299h1M365 300h1M372 300h1M376 300h2M379 300h1M384 300h1M391 300h1M371 301h1M382 301h2M388 301h1M390 301h1M368 302h1M371 302h1M377 302h2M381 302h2M386 302h1M366 303h1M370 303h1M381 303h1M386 303h1M390 303h1M397 303h1M359 304h1M366 304h1M370 304h1M374 304h1M377 304h2M388 304h1M370 305h1M374 305h1M377 305h1M386 305h1M363 306h1M370 306h1M384 306h1M387 306h1M362 307h1M364 307h1M379 307h1M384 307h1M378 308h2M381 308h1M359 309h1M382 309h1M385 309h1M365 310h1M368 310h2M379 310h1M384 310h1M358 311h1M366 311h1M369 311h1M382 311h1M370 312h1M373 312h3M377 312h3M357 313h1M367 313h1M371 313h1M379 313h1M362 314h1M368 314h1M370 314h1M375 314h1M379 314h2M370 315h1M375 315h3M382 315h1M368 316h1M371 316h1M376 316h1M378 316h3M363 317h1M369 317h1M378 317h1M382 317h1M366 318h1M371 318h1M374 318h1M378 318h1M382 318h1M374 319h1M380 319h1M376 320h1M378 320h1M339 438h1M341 438h1M333 439h1M344 441h2M331 442h1M336 442h1M349 442h1M342 443h1M347 443h1M346 444h1M350 444h1M338 445h1M352 445h1M346 446h2M350 446h1M345 447h3M339 448h1M346 448h1M346 449h1M354 450h1M349 451h1M357 451h1M353 453h1"/>
<path stroke="#ffe020" d="M371 292h1M378 292h1M382 292h1M373 293h1M378 293h1M377 294h1M379 295h1M386 295h1M366 296h1M362 297h1M365 297h1M392 299h1M358 300h1M354 302h1M358 302h1M391 303h1M386 304h1M385 308h1M385 310h1M383 313h1M361 314h1M362 315h1M364 316h1M371 317h1M375 322h1M378 322h1M327 432h1M330 434h1M339 436h1M342 436h1M339 437h1M336 438h1M344 438h1M328 440h1M339 440h1M342 440h1M342 441h1M349 441h1M329 442h1M347 442h1M338 443h1M350 443h2M341 445h1M345 445h1M349 445h1M353 445h1M348 448h1M354 448h1M350 449h1M358 450h1M346 451h2M353 452h1M355 452h1"/>
<path stroke="#ffff40" d="M380 295h1M367 296h1M371 296h1M373 296h2M367 297h5M373 297h3M378 297h1M380 297h1M367 298h1M361 299h2M368 299h3M373 299h1M384 299h1M386 299h1M361 300h1M363 300h1M367 300h2M370 300h2M375 300h1M380 300h2M360 301h2M363 301h1M365 301h1M368 301h1M370 301h1M372 301h1M374 301h3M384 301h1M360 302h2M363 302h2M366 302h2M374 302h1M380 302h1M360 303h1M365 303h1M369 303h1M371 303h1M373 303h1M375 303h1M379 303h2M383 303h1M357 304h1M360 304h2M364 304h2M368 304h2M372 304h1M379 304h1M383 304h1M357 305h1M359 305h1M362 305h5M368 305h2M371 305h1M380 305h1M384 305h1M357 306h1M359 306h2M362 306h1M364 306h1M366 306h4M372 306h1M374 306h1M377 306h1M379 306h3M383 306h1M357 307h1M359 307h2M365 307h1M368 307h2M371 307h2M380 307h1M357 308h1M359 308h4M365 308h5M374 308h1M360 309h2M363 309h7M373 309h1M362 310h1M364 310h1M370 310h1M374 310h1M380 310h2M362 311h4M367 311h2M370 311h1M376 311h1M378 311h1M364 312h1M367 312h2M371 312h2M376 312h1M363 313h1M365 313h2M368 313h1M370 313h1M373 313h3M382 313h1M363 314h2M366 314h2M369 314h1M371 314h2M376 314h1M381 314h1M365 315h1M368 315h2M371 315h2M379 315h1M366 316h2M372 316h1M375 316h1M373 317h1M379 317h1M278 377h1M278 379h1M278 385h1M274 386h1M278 386h1M277 387h2M274 388h1M278 388h1M274 389h1M278 389h1M282 396h1M282 397h6M285 398h4M290 398h1M286 399h3M290 399h1M278 400h1M287 400h1M290 400h1M287 401h2M290 401h2M277 402h1M290 402h2M291 403h1M293 403h2M291 404h4M277 405h1M291 405h1M294 405h1M294 406h1M294 407h1M277 408h1M293 408h4M293 409h4M298 409h2M276 410h1M294 410h8M294 411h7M279 412h1M293 412h4M298 412h5M293 413h10M292 414h1M294 414h11M279 415h1M294 415h10M293 416h11M279 417h1M295 417h8M306 417h1M294 418h2M297 418h7M305 418h2M308 418h2M298 419h2M302 419h2M305 419h3M309 419h2M302 420h10M313 420h1M301 421h1M304 421h4M309 421h2M312 421h1M314 421h2M302 422h5M308 422h4M313 422h1M302 423h9M313 423h1M301 424h10M298 425h10M309 425h1M319 425h3M295 426h1M299 426h7M307 426h1M309 426h1M315 426h1M319 426h3M298 427h6M305 427h5M311 427h9M321 427h3M297 428h17M317 428h1M319 428h5M297 429h6M304 429h3M308 429h2M316 429h8M301 430h9M318 430h4M301 431h10M320 431h3M302 432h7M310 432h1M320 432h5M318 433h2M321 433h5M320 434h3M324 434h1M322 435h1M324 435h1M322 436h1M324 436h1M338 439h1M339 441h1M341 441h1M337 442h5M337 444h2M337 445h1M343 445h1M345 448h1"/>
<path stroke="#ffe040" d="M371 298h1M374 299h1M377 299h1M381 299h1M362 300h1M364 300h1M373 300h2M364 301h1M366 301h2M373 301h1M381 301h1M365 302h1M369 302h1M372 302h2M379 302h1M361 303h1M363 303h2M368 303h1M372 303h1M378 303h1M384 303h1M362 304h2M367 304h1M371 304h1M373 304h1M380 304h1M384 304h1M358 305h1M360 305h2M367 305h1M373 305h1M375 305h1M381 305h1M358 306h1M365 306h1M371 306h1M376 306h1M355 307h1M367 307h1M374 307h1M378 307h1M382 307h1M358 308h1M370 308h1M373 308h1M362 309h1M371 309h1M375 309h1M377 309h1M380 309h1M367 310h1M373 311h1M379 311h1M361 312h1M366 312h1M380 312h1M369 313h1M372 313h1M376 313h1M378 313h1M381 313h1M367 315h1M369 316h1M375 317h1M377 317h1M323 430h1"/>
<path stroke="#ffc040" d="M375 302h2M376 303h2M375 304h2M372 305h1M376 305h1M373 306h1M375 306h1M373 307h1M375 307h3M371 308h2M375 308h1M377 308h1M370 309h1M372 309h1M374 309h1M376 309h1M378 309h1M371 310h3M375 310h4M371 311h1M374 311h2M377 311h1M369 312h1"/>
<path stroke="#ffff60" d="M277 341h1M276 343h1M270 344h1M275 353h1M280 353h1M279 355h1M276 356h1M274 358h1M271 359h1M275 361h1M276 362h1M278 362h1M272 366h1M279 368h1M275 369h1M277 370h1M277 372h1M278 373h1M274 376h1M271 377h1M272 379h1M276 380h1M276 381h1M276 382h1M274 385h1M276 385h1M277 386h1M276 387h1M276 388h1M282 390h1M277 391h1M275 393h1M275 394h1M277 394h1M276 395h1M279 395h1M274 396h3M278 396h1M276 398h1M273 399h2M274 401h1M276 401h1M279 401h2M282 401h1M275 402h1M276 404h1M279 404h1M278 405h1M278 408h1M275 409h1M278 410h1M276 411h2M276 412h1M277 413h1M276 416h1M274 418h1"/>
<path stroke="#ffff80" d="M273 352h1M276 364h1M274 368h1M271 369h1M276 370h1M275 372h1M273 375h1M273 377h1M275 378h1M272 380h1M270 386h1M272 386h1M276 386h1M275 387h1M273 394h1M272 397h1M276 400h1M272 402h1M274 402h1M273 403h1M272 404h1M272 405h1M277 406h1M277 409h1M274 410h1M277 420h1"/>
<path stroke="#ffffa0" d="M275 380h1M276 414h1"/></g>
<path transform="translate(0,.5)" fill="none" stroke="#f0f" stroke-width="1" shape-rendering="crispEdges" d="M549 104h11M536 105h14M523 106h14M509 107h15M496 108h14M482 109h15M468 110h15M454 111h15M439 112h16M424 113h16M409 114h16M393 115h17M376 116h18M358 117h19M340 118h19M320 119h21M298 120h23M273 121h26M244 122h30M205 123h40M123 124h83M132 159h3M134 160h4M137 161h4M140 162h4M143 163h4M146 164h4M149 165h5M153 166h4M156 167h5M554 167h6M160 168h5M535 168h20M164 169h4M519 169h17M167 170h6M505 170h15M172 171h5M492 171h14M176 172h5M480 172h13M180 173h6M467 173h14M185 174h6M456 174h12M190 175h7M444 175h13M196 176h6M432 176h13M201 177h8M420 177h13M208 178h8M407 178h14M215 179h9M394 179h14M223 180h10M380 180h15M232 181h12M363 181h18M243 182h16M343 182h21M258 183h40M300 183h44M297 184h4M139 191h2M140 192h3M142 193h2M143 194h2M144 195h2M145 196h3M147 197h2M148 198h2M149 199h3M151 200h2M152 201h2M153 202h3M155 203h2M156 204h3M158 205h2M159 206h3M129 207h1M161 207h2M129 208h1M162 208h3M120 209h1M129 209h1M164 209h2M112 210h1M120 210h1M129 210h1M165 210h3M112 211h1M120 211h1M129 211h2M167 211h3M112 212h1M120 212h1M130 212h1M169 212h2M112 213h1M120 213h1M130 213h1M170 213h3M112 214h1M120 214h2M130 214h1M172 214h3M547 214h3M112 215h1M121 215h1M130 215h1M174 215h3M540 215h8M112 216h1M121 216h1M130 216h2M176 216h3M533 216h8M112 217h1M121 217h1M131 217h1M178 217h2M527 217h7M112 218h1M121 218h1M131 218h1M179 218h4M521 218h7M112 219h1M121 219h1M131 219h1M182 219h2M515 219h7M112 220h2M121 220h1M131 220h2M183 220h4M509 220h7M113 221h1M121 221h1M132 221h1M186 221h3M503 221h7M113 222h1M121 222h2M132 222h1M188 222h3M497 222h7M113 223h1M122 223h1M132 223h1M190 223h3M492 223h6M113 224h1M122 224h1M132 224h2M192 224h4M486 224h7M113 225h1M122 225h1M133 225h1M195 225h3M480 225h7M113 226h1M122 226h1M133 226h1M197 226h3M475 226h6M113 227h1M122 227h2M133 227h2M199 227h4M469 227h7M113 228h1M123 228h1M134 228h1M202 228h4M464 228h6M113 229h1M123 229h1M134 229h1M205 229h3M458 229h7M113 230h2M123 230h1M134 230h2M207 230h4M452 230h7M114 231h1M123 231h1M135 231h1M210 231h4M447 231h6M114 232h1M123 232h2M135 232h1M213 232h4M441 232h7M114 233h1M124 233h1M135 233h2M216 233h5M435 233h7M114 234h1M124 234h1M136 234h1M220 234h4M429 234h7M114 235h1M124 235h1M136 235h1M223 235h5M423 235h7M114 236h1M124 236h2M136 236h2M227 236h5M416 236h8M114 237h1M125 237h1M137 237h1M231 237h5M410 237h7M114 238h2M125 238h1M137 238h2M235 238h5M403 238h8M115 239h1M125 239h1M138 239h1M239 239h6M396 239h8M115 240h1M125 240h2M138 240h2M244 240h6M388 240h9M115 241h1M126 241h1M139 241h1M249 241h7M380 241h9M115 242h1M126 242h1M139 242h2M255 242h8M371 242h10M115 243h1M126 243h1M140 243h1M262 243h9M361 243h11M115 244h1M126 244h2M140 244h2M270 244h11M349 244h13M115 245h2M127 245h1M141 245h1M280 245h17M331 245h19M116 246h1M127 246h1M141 246h2M296 246h36M116 247h1M127 247h2M142 247h1M116 248h1M128 248h1M142 248h2M116 249h1M128 249h1M143 249h1M116 250h2M128 250h2M143 250h2M117 251h1M129 251h1M144 251h1M117 252h1M129 252h1M144 252h2M117 253h1M129 253h2M145 253h2M117 254h1M130 254h1M146 254h1M117 255h2M130 255h1M146 255h2M118 256h1M130 256h2M147 256h2M118 257h1M131 257h1M148 257h1M118 258h1M131 258h2M148 258h2M118 259h1M132 259h1M149 259h2M118 260h2M132 260h2M150 260h1M119 261h1M133 261h1M150 261h2M548 261h2M119 262h1M133 262h1M151 262h2M544 262h5M119 263h2M133 263h2M152 263h2M541 263h4M120 264h1M134 264h1M153 264h2M538 264h4M120 265h1M134 265h2M154 265h1M534 265h5M120 266h1M135 266h1M154 266h2M531 266h4M120 267h2M135 267h2M155 267h2M527 267h5M121 268h1M136 268h1M156 268h2M524 268h4M121 269h1M136 269h2M157 269h2M520 269h5M121 270h2M137 270h1M158 270h2M517 270h4M122 271h1M137 271h2M159 271h2M513 271h5M122 272h1M138 272h1M160 272h2M510 272h4M122 273h2M138 273h2M161 273h2M507 273h4M123 274h1M139 274h1M162 274h2M503 274h5M123 275h1M139 275h2M163 275h2M500 275h4M123 276h2M140 276h1M164 276h2M496 276h5M124 277h1M140 277h2M165 277h2M493 277h4M124 278h1M141 278h2M166 278h2M490 278h4M124 279h2M142 279h1M167 279h3M486 279h5M125 280h1M142 280h2M169 280h2M483 280h4M125 281h1M143 281h1M170 281h2M479 281h5M125 282h2M143 282h2M171 282h2M476 282h4M126 283h1M144 283h2M172 283h3M472 283h5M126 284h2M145 284h1M174 284h2M469 284h4M127 285h1M145 285h2M175 285h3M465 285h5M127 286h2M146 286h2M177 286h2M462 286h4M128 287h1M147 287h1M178 287h3M458 287h5M128 288h2M147 288h2M180 288h3M455 288h4M129 289h1M148 289h2M182 289h2M451 289h5M129 290h2M149 290h2M183 290h3M447 290h5M130 291h1M150 291h1M185 291h3M443 291h5M130 292h2M150 292h2M187 292h3M440 292h4M131 293h1M151 293h2M189 293h3M436 293h5M131 294h2M152 294h2M191 294h3M432 294h5M132 295h1M153 295h2M193 295h3M428 295h5M132 296h2M154 296h2M195 296h4M424 296h5M133 297h1M155 297h2M198 297h3M420 297h5M133 298h2M156 298h2M200 298h3M416 298h5M134 299h2M157 299h2M202 299h4M411 299h6M135 300h1M158 300h2M205 300h4M407 300h5M135 301h2M159 301h2M208 301h4M402 301h6M136 302h2M160 302h2M211 302h4M398 302h5M137 303h1M161 303h2M214 303h4M393 303h6M137 304h2M162 304h3M217 304h5M388 304h6M138 305h2M164 305h2M221 305h5M383 305h6M139 306h2M165 306h3M225 306h5M377 306h7M140 307h1M167 307h2M229 307h6M371 307h7M140 308h2M168 308h3M234 308h5M365 308h7M141 309h2M170 309h3M238 309h7M359 309h7M142 310h2M172 310h2M244 310h7M351 310h9M143 311h2M173 311h3M250 311h8M343 311h9M144 312h2M175 312h3M257 312h10M333 312h11M145 313h2M177 313h3M266 313h14M318 313h16M146 314h2M179 314h4M279 314h40M147 315h2M182 315h3M148 316h2M184 316h4M149 317h2M187 317h3M150 318h2M189 318h4M151 319h3M192 319h4M153 320h2M195 320h4M154 321h2M198 321h4M155 322h2M201 322h4M156 323h3M204 323h5M158 324h2M208 324h4M159 325h3M211 325h4M161 326h2M214 326h5M162 327h3M218 327h3M164 328h3M220 328h4M166 329h2M223 329h4M167 330h3M226 330h3M169 331h3M228 331h3M171 332h3M230 332h3M173 333h3M232 333h3M175 334h3M234 334h3M177 335h4M236 335h3M180 336h3M238 336h3M182 337h3M240 337h2M184 338h4M241 338h3M187 339h3M243 339h3M189 340h4M245 340h3M192 341h4M247 341h2M195 342h3M248 342h3M197 343h4M250 343h3M200 344h4M252 344h3M203 345h4M254 345h2M206 346h3M255 346h3M208 347h4M257 347h3M211 348h4M259 348h3M214 349h3M261 349h3M216 350h4M263 350h3M219 351h3M265 351h3M221 352h3M267 352h3M223 353h3M269 353h3M225 354h3M271 354h3M227 355h3M273 355h4M229 356h3M276 356h3M231 357h3M278 357h4M233 358h3M281 358h4M235 359h2M284 359h4M236 360h2M287 360h4M237 361h3M290 361h4M239 362h2M293 362h5M380 362h12M240 363h3M297 363h6M370 363h11M242 364h2M302 364h7M359 364h12M243 365h2M308 365h9M347 365h13M244 366h2M316 366h32M245 367h2M246 368h2M247 369h2M248 370h2M249 371h3M251 372h1M251 373h2M252 374h2M253 375h2M254 376h2M255 377h2M256 378h2M257 379h2M258 380h2M259 381h2M260 382h2M261 383h2M262 384h2M263 385h1M263 386h2M264 387h2M265 388h2M266 389h2M267 390h2M268 391h2M269 392h2M270 393h1M270 394h2M271 395h2M272 396h2M273 397h2M274 398h2M275 399h2M276 400h2M277 401h2M278 402h2M279 403h2M280 404h2M281 405h2M282 406h2M283 407h2M284 408h2M285 409h2M286 410h2M287 411h3M289 412h2M290 413h2M291 414h2M292 415h2M293 416h3M295 417h2M296 418h2M297 419h3M299 420h2M300 421h3M302 422h2M303 423h3M305 424h2M306 425h3M308 426h2M309 427h3M311 428h2M312 429h3M314 430h3M316 431h3M318 432h2M319 433h3M321 434h3M323 435h3M325 436h3M327 437h3M329 438h2M330 439h3M332 440h3M334 441h3M336 442h3M338 443h3M340 444h3M342 445h3M344 446h3M346 447h4M349 448h3M351 449h3M353 450h3M355 451h3M357 452h3M359 453h3M361 454h3M363 455h3M365 456h3M367 457h3M369 458h3M371 459h4M374 460h2M375 461h4M378 462h3M380 463h3M382 464h3M384 465h3M386 466h3M388 467h3M390 468h3M392 469h3M394 470h3M396 471h3M398 472h3M400 473h3M402 474h3M404 475h3M406 476h3M408 477h3M410 478h3M412 479h3M414 480h4M417 481h3M419 482h3M421 483h3M423 484h2M424 485h3M426 486h3M428 487h3M430 488h3M432 489h3M434 490h3M436 491h2M437 492h3M439 493h2M440 494h3M442 495h2M443 496h3M445 497h2M446 498h3M448 499h2M449 500h2M450 501h2M451 502h2M452 503h3M454 504h2M455 505h2M456 506h2M457 507h2M458 508h2M459 509h1M459 510h2M460 511h2M461 512h2M462 513h2M463 514h1M463 515h2M464 516h2M465 517h1M465 518h2M466 519h2M467 520h1M467 521h2M468 522h1M468 523h2M469 524h1M469 525h2M470 526h2M471 527h1M471 528h2M472 529h1M472 530h2M473 531h1M473 532h1M473 533h2M474 534h1M474 535h2M475 536h1M475 537h2M476 538h1M476 539h2M477 540h1M477 541h1M477 542h2M478 543h1M478 544h2M479 545h1M479 546h1M479 547h2M480 548h1M480 549h2M481 550h1M481 551h1M481 552h2M482 553h1M482 554h1M122 555h2M482 555h2M123 556h2M483 556h1M124 557h1M483 557h2M124 558h2M484 558h1M125 559h2M484 559h1M126 560h2M484 560h2M127 561h2M485 561h1M128 562h2M485 562h2M129 563h2M486 563h1M130 564h2M486 564h1M131 565h2M486 565h2M132 566h2M487 566h1M133 567h2M487 567h2M134 568h1M488 568h1M134 569h3M488 569h2M136 570h1M489 570h1M136 571h2M489 571h1M137 572h2M489 572h2M138 573h2M490 573h1M139 574h2M490 574h2M140 575h2M491 575h1M141 576h2M491 576h2M142 577h2M492 577h1M143 578h3M492 578h2M145 579h2M493 579h1M146 580h2M493 580h2M147 581h2M494 581h1M148 582h2M494 582h2M149 583h2M495 583h1M150 584h2M495 584h2M151 585h2M496 585h1M152 586h2M496 586h2M153 587h2M497 587h1M154 588h2M497 588h2M155 589h3M498 589h1M157 590h2M498 590h2M158 591h2M499 591h1M159 592h2M499 592h2M160 593h2M500 593h2M161 594h3M501 594h1M163 595h2M501 595h2M164 596h2M502 596h1M165 597h2M502 597h2M166 598h2M503 598h2M167 599h3M504 599h1M169 600h2M504 600h2M170 601h2M505 601h2M171 602h3M506 602h1M173 603h2M506 603h2M174 604h2M507 604h2M175 605h3M508 605h1M177 606h2M508 606h2M178 607h2M509 607h2M179 608h3M510 608h2M181 609h2M511 609h1M182 610h3M511 610h2M184 611h2M512 611h2M185 612h2M513 612h2M186 613h3M514 613h2M188 614h2M515 614h2M189 615h3M516 615h1M191 616h2M516 616h2M192 617h3M517 617h2M194 618h2M518 618h2M195 619h3M519 619h2M197 620h2M520 620h2M198 621h3M521 621h2M200 622h3M522 622h2M202 623h2M523 623h2M203 624h3M524 624h2M205 625h3M525 625h2M207 626h2M526 626h1M208 627h3M526 627h2M210 628h3M527 628h2M212 629h2M528 629h2M213 630h3M529 630h2M215 631h3M530 631h2M217 632h3M531 632h2M219 633h3M532 633h2M221 634h2M533 634h2M222 635h3M534 635h2M224 636h3M535 636h2M226 637h3M536 637h2M228 638h3M537 638h2M230 639h3M538 639h2M232 640h3M539 640h3M234 641h3M541 641h1M236 642h3M541 642h3M238 643h3M543 643h2M240 644h3M544 644h2M242 645h3M545 645h2M244 646h4M546 646h2M247 647h3M547 647h2M249 648h3M548 648h2M251 649h3M549 649h2M253 650h4M550 650h2M256 651h3M551 651h2M258 652h3M552 652h2M260 653h4M553 653h2M263 654h3M554 654h2M265 655h4M555 655h2M268 656h3M556 656h2M270 657h4M557 657h2M273 658h4M558 658h2M276 659h3M559 659h2M278 660h4M560 660h2M281 661h4M561 661h2M284 662h4M562 662h2M287 663h4M563 663h2M290 664h4M564 664h2M293 665h4M565 665h2M296 666h4M566 666h2M299 667h4M567 667h1M302 668h4M567 668h2M305 669h5M568 669h2M309 670h4M569 670h2M312 671h5M570 671h2M316 672h4M571 672h2M319 673h5M572 673h2M323 674h5M573 674h2M327 675h5M574 675h2M331 676h5M575 676h2M335 677h5M576 677h2M339 678h5M577 678h1M343 679h6M577 679h2M348 680h6M578 680h2M353 681h6M579 681h2M358 682h6M580 682h2M363 683h6M581 683h2M368 684h7M582 684h1M374 685h7M582 685h2M380 686h7M583 686h2M386 687h8M584 687h2M393 688h9M585 688h2M401 689h9M586 689h1M409 690h10M586 690h2M418 691h12M587 691h2M429 692h13M588 692h2M441 693h19M589 693h1M459 694h12M589 694h2M590 695h2M591 696h1"/>
<g shape-rendering="crispEdges">
<path d="M77.5 35.5H645.5V779.5H77.5Z" fill="none" stroke="#fff" stroke-width="1"/>
<path d="M71 95.5h6M71 158.5h6M71 221.5h6M71 285.5h6M71 348.5h6M71 411.5h6M71 476.5h6M71 538.5h6M71 600.5h6M71 665.5h6M71 728.5h6M646 35.5h10M646 60.5h5M646 86.5h5M646 111.5h5M646 136.5h5M646 162.5h10M646 187.5h5M646 213.5h5M646 238.5h5M646 263.5h5M646 289.5h10M646 314.5h5M646 339.5h5M646 365.5h5M646 390.5h5M646 415.5h10M646 441.5h5M646 466.5h5M646 491.5h5M646 517.5h5M646 542.5h10M646 568.5h5M646 593.5h5M646 618.5h5M646 644.5h5M646 669.5h10M646 694.5h5M646 720.5h5M646 745.5h5M646 770.5h5M85.5 780v3M107.5 780v3M129.5 780v3M151.5 780v5M173.5 780v3M195.5 780v3M217.5 780v3M239.5 780v3M261.5 780v5M283.5 780v3M304.5 780v3M326.5 780v3M348.5 780v3M370.5 780v5M392.5 780v3M414.5 780v3M436.5 780v3M458.5 780v3M480.5 780v5M502.5 780v3M523.5 780v3M545.5 780v3M567.5 780v3M589.5 780v5M611.5 780v3M633.5 780v3M86.5 36v5M142.5 36v5M208.5 36v5M281.5 36v5M351.5 36v5M443.5 36v5M521.5 36v5" stroke="#8ea2ff" stroke-width="1" fill="none"/>
</g>
<g font-family="'Liberation Sans',sans-serif" font-size="12" fill="#ffff00" text-anchor="end" transform="translate(67.5,0) scale(.91,1)">
<text x="0" y="99.4">100 000</text>
<text x="0" y="162.4">10 000</text>
<text x="0" y="225.4">1000</text>
<text x="0" y="289.4">100</text>
<text x="0" y="352.4">10</text>
<text x="0" y="415.4">1</text>
<text x="0" y="480.4">0.1</text>
<text x="0" y="542.4">0.01</text>
<text x="0" y="604.4">0.001</text>
<text x="0" y="669.4">0.0001</text>
<text x="0" y="732.4">0.000 01</text>
</g>
<g font-family="'Liberation Sans',sans-serif" font-size="12" fill="#ffff00" transform="translate(657.5,0) scale(.91,1)">
<text x="0" y="38.5">–10</text>
<text x="0" y="166.4">–5</text>
<text x="0" y="293.4">0</text>
<text x="0" y="419.4">+5</text>
<text x="0" y="546.4">+10</text>
<text x="0" y="673.4">+15</text>
</g>
<g font-family="'Liberation Sans',sans-serif" font-size="13.4" fill="#ffff00" text-anchor="middle">
<text x="39.7" y="251">Luminosity</text><text x="38.5" y="266">(Sun=1)</text>
<text x="683.3" y="250.5">Absolute</text><text x="684.3" y="264">Magnitude</text>
</g>
<g font-family="'Liberation Sans',sans-serif" font-size="11" fill="#a8b4ff" transform="scale(.955,1)">
<text x="82.4" y="52.5">30000K</text>
<text x="140.5" y="52.5">10000K</text>
<text x="209.6" y="52.5">7500K</text>
<text x="285.3" y="52.5">6000K</text>
<text x="358.4" y="52.5">5000K</text>
<text x="455.5" y="52.5">4000K</text>
<text x="536.6" y="52.5">3000K</text>
<text x="586.1" y="52.5">(Temperature)</text>
</g>
<g font-family="'Liberation Sans',sans-serif" font-size="11" fill="#a8b4ff" text-anchor="middle">
<text x="152.0" y="795">0.0</text>
<text x="259.0" y="795">+0.5</text>
<text x="368.2" y="795">+1.0</text>
<text x="477.1" y="795">+1.5</text>
<text x="587.0" y="795">+2.0</text>
</g>
<text font-family="'Liberation Serif',serif" font-size="15" fill="#a8b4ff" x="320.5" y="810.5" textLength="87" lengthAdjust="spacingAndGlyphs">Colour (B–V)</text>
<text font-family="'Liberation Serif',serif" font-size="13" fill="#0000ff" stroke="#0000ff" stroke-width=".3" x="686" y="816.7" textLength="33.5" lengthAdjust="spacingAndGlyphs">r powell</text>
<text font-family="'Liberation Sans',sans-serif" font-size="13" fill="#40e0e0" x="85.3" y="30.6">O</text>
<text font-family="'Liberation Sans',sans-serif" font-size="13" fill="#b0f0f0" x="120.5" y="30.6">B</text>
<text font-family="'Liberation Serif',serif" font-size="14" fill="#ffffff" x="178.5" y="30.6">A</text>
<text font-family="'Liberation Serif',serif" font-size="14" fill="#ffffc0" x="250" y="30.6">F</text>
<text font-family="'Liberation Sans',sans-serif" font-size="13" fill="#ffff00" x="327.8" y="30.8">G</text>
<text font-family="'Liberation Serif',serif" font-size="14" fill="#ff8000" x="424" y="30.6">K</text>
<text font-family="'Liberation Serif',serif" font-size="14" fill="#ff0000" x="541" y="30.6">M</text>
<defs><linearGradient id="sc" gradientUnits="userSpaceOnUse" x1="320" y1="0" x2="407" y2="0"><stop offset="0.0000" stop-color="#60e8e8"/><stop offset="0.1028" stop-color="#60e8e8"/><stop offset="0.1025" stop-color="#c0f8f8"/><stop offset="0.1884" stop-color="#c0f8f8"/><stop offset="0.1883" stop-color="#ffffff"/><stop offset="0.2739" stop-color="#ffffff"/><stop offset="0.2737" stop-color="#ffffd0"/><stop offset="0.3509" stop-color="#ffffd0"/><stop offset="0.3508" stop-color="#ffff40"/><stop offset="0.3937" stop-color="#ffff40"/><stop offset="0.3934" stop-color="#ff8000"/><stop offset="0.4448" stop-color="#ff8000"/><stop offset="0.4447" stop-color="#ff0000"/><stop offset="0.5306" stop-color="#ff0000"/><stop offset="0.5303" stop-color="#80e0e0"/><stop offset="0.5647" stop-color="#80e0e0"/><stop offset="0.5645" stop-color="#ffffff"/><stop offset="0.6074" stop-color="#ffffff"/><stop offset="0.6072" stop-color="#ffffff"/><stop offset="0.7186" stop-color="#ffffff"/><stop offset="0.7184" stop-color="#ffffd0"/><stop offset="0.7529" stop-color="#ffffd0"/><stop offset="0.7526" stop-color="#ffff00"/><stop offset="0.8384" stop-color="#ffff00"/><stop offset="0.8382" stop-color="#ff8000"/><stop offset="0.9154" stop-color="#ff8000"/><stop offset="0.9153" stop-color="#ff0000"/><stop offset="0.9923" stop-color="#ff0000"/></linearGradient></defs>
<text font-family="'Liberation Sans',sans-serif" font-size="13.4" x="320" y="14.4" fill="url(#sc)">Spectral Class</text>
<g font-family="'Liberation Sans',sans-serif" font-size="13.25" fill="#f0f">
<text x="563" y="110">Ia</text>
<text x="561.5" y="141.5">Supergiants</text>
<text x="563" y="172">Ib</text>
<text x="552" y="218">II Bright Giants</text>
<text x="551.5" y="265.5" letter-spacing="-.6">III</text><text x="578.5" y="265.5">Giants</text>
<text x="396" y="367">IV</text><text x="415" y="367">Subgiants</text>
<text x="431" y="459">V</text><text x="448" y="459">Main Sequence</text>
<text x="320.5" y="710.5">White Dwarfs</text>
</g>
</svg></body></html>
